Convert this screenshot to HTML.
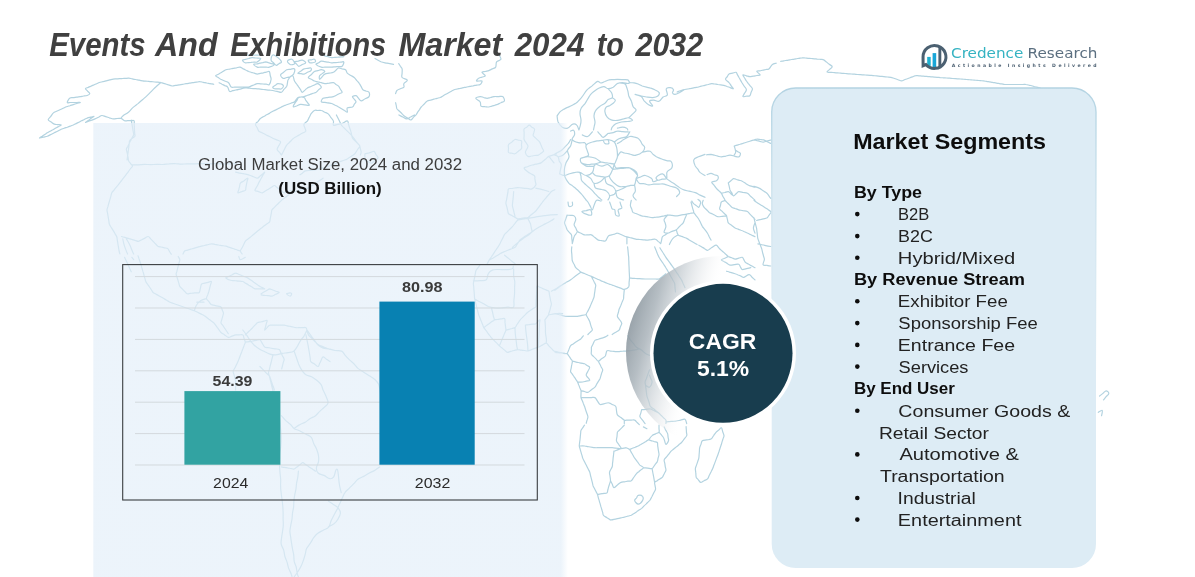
<!DOCTYPE html>
<html lang="en"><head><meta charset="utf-8"><title>Events And Exhibitions Market 2024 to 2032</title>
<style>
html,body{margin:0;padding:0;background:#fff;}
body{width:1195px;height:577px;overflow:hidden;font-family:"Liberation Sans",sans-serif;}
svg{display:block;}
text{font-family:"Liberation Sans",sans-serif;}
text.logo{font-family:"DejaVu Sans","Liberation Sans",sans-serif;}
</style></head><body>
<svg width="1195" height="577" viewBox="0 0 1195 577">
<defs>
<linearGradient id="cres" gradientUnits="userSpaceOnUse" x1="629.5" y1="326.4" x2="703" y2="346.8">
<stop offset="0" stop-color="#8f9aa2" stop-opacity="0.9"/><stop offset="0.25" stop-color="#a6b0b7" stop-opacity="0.82"/><stop offset="0.5" stop-color="#c9d0d5" stop-opacity="0.7"/><stop offset="0.78" stop-color="#eceef0" stop-opacity="0.45"/><stop offset="1" stop-color="#ffffff" stop-opacity="0"/>
</linearGradient>
<linearGradient id="pan" x1="0" y1="0" x2="1" y2="0">
<stop offset="0" stop-color="#e4eff9" stop-opacity="0.7"/><stop offset="0.985" stop-color="#e4eff9" stop-opacity="0.7"/><stop offset="1" stop-color="#e4eff9" stop-opacity="0"/>
</linearGradient>
<linearGradient id="cb" gradientUnits="userSpaceOnUse" x1="0" y1="88" x2="0" y2="568">
<stop offset="0" stop-color="#b3d3e2" stop-opacity="1"/><stop offset="0.08" stop-color="#b8d7e5" stop-opacity="0.9"/><stop offset="0.3" stop-color="#c5deea" stop-opacity="0.5"/><stop offset="0.6" stop-color="#d5e7f0" stop-opacity="0"/><stop offset="1" stop-color="#d5e7f0" stop-opacity="0"/>
</linearGradient>
<filter id="sh" x="-10%" y="-10%" width="120%" height="120%"><feGaussianBlur stdDeviation="2"/></filter>
</defs>
<rect width="1195" height="577" fill="#ffffff"/>
<g id="map" fill="none" stroke="#b3d3e0" stroke-width="1.2" stroke-linejoin="round" stroke-linecap="round">
<path d="M39.5 138.0C40.0 137.7 41.2 136.9 42.1 136.3C43.1 135.6 43.8 135.2 44.7 134.5C45.7 133.9 46.3 133.4 47.3 132.8C48.3 132.2 49.1 131.8 50.1 131.2C51.1 130.7 51.9 130.2 52.9 129.7C53.9 129.1 54.6 128.7 55.6 128.1C56.7 127.5 57.4 127.1 58.4 126.6C59.4 126.0 61.3 125.4 61.2 125.0C61.1 124.6 59.0 124.7 57.7 124.6C56.5 124.4 55.5 124.6 54.3 124.1C53.1 123.6 52.3 122.8 51.2 122.0C50.1 121.2 48.3 120.8 48.2 119.8C48.1 118.8 49.8 117.6 50.8 116.3C51.8 115.1 52.3 113.8 53.4 112.9C54.5 111.9 55.5 111.9 56.6 111.3C57.8 110.8 58.7 110.4 59.9 109.8C61.1 109.3 62.0 108.9 63.1 108.3C64.3 107.8 65.2 107.3 66.4 106.8C67.6 106.3 68.6 106.1 69.9 105.7C71.1 105.3 72.1 105.0 73.3 104.6C74.6 104.2 75.5 103.9 76.8 103.5C78.1 103.1 80.2 102.7 80.3 102.5C80.3 102.3 78.2 102.5 77.0 102.5C75.8 102.5 75.0 102.5 73.8 102.5C72.6 102.5 71.7 102.5 70.5 102.5C69.3 102.5 67.4 103.3 67.3 102.5C67.1 101.7 68.7 99.0 69.9 98.1C71.0 97.2 72.1 97.8 73.3 97.6C74.6 97.4 75.5 97.3 76.8 97.1C78.1 96.9 79.0 96.8 80.3 96.6C81.5 96.4 82.5 96.2 83.7 96.0C85.0 95.9 86.1 95.9 87.2 95.5C88.3 95.1 89.7 94.6 89.8 93.8C89.9 93.0 88.4 92.1 87.6 91.2C86.8 90.2 85.3 89.3 85.5 88.6C85.6 87.9 87.2 87.8 88.2 87.4C89.2 86.9 90.0 86.6 91.0 86.2C92.0 85.7 92.8 85.4 93.8 85.0C94.8 84.5 95.5 84.2 96.6 83.7C97.6 83.3 98.2 82.9 99.3 82.5C100.5 82.1 101.5 82.0 102.8 81.7C104.1 81.3 105.0 81.1 106.3 80.8C107.5 80.5 108.5 80.2 109.7 79.9C111.0 79.6 112.0 79.3 113.2 79.1C114.4 78.9 115.2 79.0 116.3 78.9C117.5 78.8 118.3 78.8 119.4 78.7C120.6 78.7 121.4 78.6 122.5 78.5C123.7 78.5 124.5 78.4 125.7 78.4C126.8 78.3 127.6 78.1 128.8 78.2C130.0 78.3 131.0 78.6 132.3 78.8C133.5 79.1 134.4 79.3 135.7 79.5C137.0 79.7 137.9 79.9 139.2 80.1C140.5 80.4 141.5 80.6 142.7 80.8C143.8 81.0 144.6 81.0 145.7 81.1C146.8 81.2 147.6 81.3 148.7 81.4C149.8 81.5 150.6 81.6 151.8 81.7C152.9 81.8 153.7 81.8 154.8 82.0C155.9 82.1 156.7 82.1 157.8 82.2C158.9 82.3 160.3 82.5 160.8 82.5 M160.8 82.5C160.0 83.2 157.9 85.0 156.3 86.5C154.7 87.9 153.7 89.0 152.1 90.6C150.5 92.2 149.3 93.5 147.6 95.1C145.9 96.7 144.5 97.9 142.7 99.5C141.0 101.0 139.8 102.1 138.0 103.6C136.2 105.0 134.8 105.8 133.1 107.4C131.3 109.0 130.2 110.6 128.4 112.2C126.6 113.7 124.5 114.7 123.1 115.8C121.8 116.8 121.4 117.6 121.0 118.1 M121.0 118.1C121.6 118.5 123.2 120.2 124.5 120.7C125.7 121.1 126.5 120.7 127.6 120.7C128.8 120.7 129.6 120.7 130.8 120.7C132.0 120.7 133.4 120.1 134.0 120.7C134.6 121.2 134.1 122.6 134.2 123.8C134.2 124.9 134.3 125.8 134.3 126.9C134.4 128.0 134.4 128.9 134.5 130.0C134.6 131.2 134.6 132.0 134.7 133.1C134.7 134.3 135.3 135.3 134.9 136.3C134.4 137.2 133.2 137.6 132.3 138.4C131.3 139.2 130.2 139.6 129.7 140.6C129.1 141.6 129.4 142.6 129.2 143.8C129.1 145.0 128.9 145.9 128.8 147.1C128.6 148.3 128.5 149.1 128.4 150.3C128.2 151.5 128.1 152.4 127.9 153.6C127.8 154.8 127.6 155.6 127.5 156.8C127.3 158.0 127.1 159.4 127.1 160.0 M121.0 118.1C120.3 118.1 118.5 118.3 117.1 118.5C115.7 118.7 114.6 119.1 113.2 118.9C111.8 118.8 110.8 118.2 109.4 117.8C108.1 117.3 107.1 117.0 105.7 116.6C104.3 116.2 103.2 115.4 101.9 115.5C100.6 115.6 99.7 116.6 98.5 117.2C97.2 117.8 96.2 118.4 95.0 118.9C93.8 119.5 93.0 119.7 91.8 120.1C90.6 120.5 89.8 120.8 88.6 121.2C87.5 121.7 85.5 122.6 85.5 122.4C85.4 122.2 87.3 121.1 88.3 120.4C89.4 119.6 90.2 119.1 91.2 118.3C92.3 117.6 94.2 116.5 94.1 116.3C94.0 116.1 91.9 116.9 90.7 117.2C89.4 117.5 88.3 117.6 87.2 118.1C86.0 118.5 85.4 118.9 84.4 119.4C83.4 120.0 82.7 120.3 81.6 120.8C80.6 121.3 79.9 121.7 78.9 122.2C77.9 122.7 77.1 123.1 76.1 123.6C75.1 124.1 74.4 124.5 73.3 125.0C72.3 125.4 71.4 125.7 70.3 126.1C69.2 126.5 68.4 126.8 67.3 127.2C66.1 127.6 65.3 127.8 64.2 128.2C63.1 128.6 62.3 128.9 61.2 129.3C60.1 129.8 59.4 130.2 58.4 130.7C57.4 131.2 56.7 131.6 55.6 132.1C54.6 132.6 53.9 133.0 52.9 133.5C51.9 134.0 51.1 134.4 50.1 134.9C49.1 135.4 48.6 135.8 47.3 136.3C46.1 136.7 44.9 136.8 43.4 137.1C42.0 137.4 40.2 137.8 39.5 138.0 M160.8 82.5C161.5 82.7 163.2 83.3 164.6 83.7C166.0 84.1 167.0 84.4 168.4 84.8C169.7 85.3 170.8 85.9 172.1 86.0C173.4 86.1 174.3 85.6 175.6 85.4C176.9 85.2 177.8 85.1 179.0 84.8C180.3 84.6 181.2 84.5 182.5 84.3C183.8 84.1 184.7 83.9 186.0 83.7C187.3 83.6 188.2 83.4 189.4 83.2C190.7 83.0 191.6 82.9 192.9 82.7C194.2 82.5 195.1 82.4 196.4 82.2C197.6 82.0 198.6 81.6 199.8 81.7C201.1 81.7 202.0 82.1 203.3 82.3C204.6 82.6 205.5 82.7 206.8 83.0C208.0 83.2 209.0 83.4 210.2 83.6C211.5 83.9 213.1 84.1 213.7 84.3 M219.1 82.7C219.6 83.0 220.9 83.6 222.0 84.2C223.0 84.7 223.8 85.1 224.8 85.6C225.9 86.1 226.9 86.0 227.7 87.1C228.6 88.1 228.6 90.7 229.5 91.4C230.4 92.1 231.4 91.0 232.6 90.7C233.7 90.4 234.6 90.3 235.7 90.0C236.8 89.8 237.7 89.6 238.8 89.3C240.0 89.1 240.8 88.9 241.9 88.6C243.1 88.4 243.9 88.0 245.1 87.9C246.2 87.8 247.0 88.1 248.1 88.1C249.2 88.2 250.0 88.3 251.1 88.4C252.2 88.4 253.0 88.5 254.2 88.6C255.3 88.7 256.1 88.7 257.2 88.8C258.3 88.9 259.2 89.0 260.3 89.1C261.5 89.3 262.3 89.4 263.4 89.5C264.6 89.6 265.4 89.7 266.6 89.8C267.7 90.0 268.5 90.1 269.7 90.2C270.8 90.3 271.4 90.3 272.8 90.5C274.2 90.8 275.5 91.1 277.1 91.4C278.7 91.7 280.2 92.7 281.5 92.3C282.7 91.9 283.1 90.3 284.1 89.2C285.0 88.1 286.0 87.4 286.7 86.2C287.3 85.0 287.2 84.0 287.5 82.7C287.8 81.5 287.4 80.5 288.4 79.3C289.3 78.0 291.6 75.5 292.7 75.8C293.8 76.1 293.7 79.5 294.5 81.0C295.2 82.5 295.8 82.9 296.6 84.0C297.4 85.1 298.1 86.0 298.8 87.1C299.5 88.1 299.9 88.7 300.5 89.7C301.2 90.6 301.5 92.2 302.3 92.3C303.0 92.3 303.9 90.9 304.9 90.1C305.8 89.3 306.3 88.6 307.5 87.9C308.6 87.3 309.6 87.0 310.9 86.5C312.2 86.0 313.1 85.6 314.4 85.0C315.7 84.5 316.6 83.2 317.9 83.6C319.1 84.0 321.2 86.0 321.3 87.1C321.5 88.2 319.7 88.7 318.7 89.7C317.8 90.6 317.2 91.6 316.1 92.3C315.1 92.9 314.2 92.9 313.1 93.3C312.0 93.7 311.2 94.0 310.1 94.4C308.9 94.8 308.1 95.1 307.0 95.5C305.9 95.9 305.1 96.3 304.0 96.6C302.9 96.9 302.1 96.9 301.0 97.0C299.8 97.2 299.1 96.6 297.9 97.5C296.7 98.3 295.6 100.8 294.5 101.8C293.3 102.8 292.7 102.5 291.6 102.9C290.6 103.3 289.9 103.6 288.8 104.0C287.8 104.4 287.0 104.6 286.0 105.0C285.0 105.4 284.3 105.6 283.2 106.1C282.0 106.6 281.0 107.2 279.7 107.9C278.5 108.5 277.5 109.0 276.3 109.6C275.0 110.2 274.0 110.7 272.8 111.3C271.6 112.0 270.9 112.4 269.8 113.1C268.6 113.7 267.8 114.2 266.7 114.8C265.6 115.4 264.8 115.9 263.7 116.5C262.6 117.2 261.7 117.4 260.7 118.3C259.6 119.1 259.0 120.2 258.1 121.3C257.1 122.4 255.6 123.1 255.5 124.3C255.3 125.5 256.6 126.5 257.2 127.8C257.8 129.1 258.1 130.4 258.9 131.3C259.8 132.1 260.7 132.1 261.7 132.6C262.7 133.2 263.5 133.5 264.5 134.0C265.5 134.5 266.2 134.9 267.2 135.4C268.3 135.9 269.0 136.3 270.0 136.8C271.0 137.3 271.6 137.6 272.8 138.2C274.0 138.8 275.3 139.3 276.7 139.9C278.1 140.6 280.2 140.6 280.6 141.7C281.0 142.7 279.5 144.1 278.9 145.6C278.2 147.0 277.0 148.2 277.1 149.5C277.2 150.7 278.5 151.2 279.3 152.2C280.1 153.2 281.1 154.5 281.5 155.0 M215.6 75.8C215.6 75.2 217.2 74.8 218.2 74.3C219.2 73.7 219.8 73.3 220.8 72.8C221.8 72.2 222.4 71.8 223.4 71.2C224.4 70.7 224.9 70.1 226.0 69.7C227.1 69.3 228.2 69.3 229.5 69.1C230.7 68.8 231.7 68.7 232.9 68.4C234.2 68.2 235.1 68.0 236.4 67.8C237.7 67.5 238.7 67.0 239.9 67.1C241.0 67.3 241.7 68.0 242.7 68.6C243.8 69.1 244.6 69.5 245.6 70.0C246.7 70.5 247.5 71.0 248.5 71.5C249.6 71.9 250.4 72.0 251.4 72.3C252.5 72.6 253.2 72.9 254.3 73.2C255.4 73.5 256.1 74.0 257.2 74.1C258.3 74.1 259.1 73.7 260.2 73.4C261.3 73.2 262.1 73.0 263.3 72.8C264.4 72.5 265.2 72.4 266.3 72.1C267.4 71.9 268.6 70.9 269.3 71.5C270.0 72.1 269.9 73.9 270.2 75.4C270.5 76.8 271.2 77.6 271.1 79.3C270.9 80.9 270.2 83.5 269.3 84.5C268.5 85.4 267.4 84.3 266.3 84.2C265.2 84.2 264.4 84.1 263.3 84.0C262.1 84.0 261.3 83.9 260.2 83.8C259.1 83.7 258.3 83.4 257.2 83.6C256.1 83.8 255.4 84.3 254.3 84.8C253.2 85.2 252.5 85.5 251.4 85.9C250.4 86.3 249.7 86.9 248.5 87.1C247.4 87.3 246.3 87.1 245.1 87.1C243.8 87.1 242.9 87.1 241.6 87.1C240.3 87.1 239.4 87.1 238.1 87.1C236.9 87.1 235.9 87.1 234.7 87.1C233.4 87.1 232.3 87.9 231.2 87.1C230.1 86.3 229.8 83.8 228.6 82.7C227.4 81.6 226.1 81.6 224.7 81.0C223.3 80.4 222.0 79.9 220.8 79.3C219.6 78.6 219.2 78.2 218.2 77.5C217.2 76.9 215.6 76.4 215.6 75.8 M272.8 87.1C272.9 86.4 274.4 86.0 275.4 85.3C276.3 84.7 276.6 83.6 278.0 83.6C279.4 83.6 282.6 84.4 283.2 85.3C283.8 86.3 282.4 88.2 281.5 88.8C280.5 89.4 279.3 88.8 278.0 88.8C276.7 88.8 275.5 89.1 274.5 88.8C273.6 88.5 272.6 87.7 272.8 87.1 M242.5 60.2C242.6 59.6 244.5 59.7 245.6 59.3C246.8 59.0 247.7 58.8 248.8 58.5C250.0 58.1 250.6 57.7 252.0 57.6C253.4 57.5 254.7 57.9 256.3 58.0C257.9 58.2 260.5 57.8 260.7 58.5C260.8 59.2 258.4 61.3 257.2 61.9C256.0 62.6 255.3 62.1 254.2 62.1C253.0 62.2 252.2 62.3 251.1 62.4C250.0 62.4 249.2 62.5 248.1 62.6C247.0 62.7 246.1 63.2 245.1 62.8C244.0 62.4 242.4 60.8 242.5 60.2 M253.7 64.5C253.6 63.9 255.6 64.1 256.8 63.9C257.9 63.6 258.7 63.5 259.8 63.2C260.9 63.0 261.7 62.8 262.8 62.6C263.9 62.3 264.8 61.9 265.9 61.9C266.9 62.0 267.7 62.5 268.7 62.8C269.8 63.1 270.6 63.3 271.6 63.7C272.7 64.0 274.9 63.9 274.5 64.5C274.1 65.2 270.8 66.7 269.3 67.1C267.8 67.6 267.4 67.1 266.3 67.1C265.2 67.1 264.4 67.1 263.3 67.1C262.1 67.1 261.3 67.1 260.2 67.1C259.1 67.1 258.4 67.6 257.2 67.1C256.0 66.7 253.8 65.1 253.7 64.5 M287.5 61.1C287.8 60.1 290.6 58.9 291.9 59.3C293.1 59.8 294.8 62.7 294.5 63.7C294.1 64.6 291.4 65.0 290.1 64.5C288.9 64.1 287.2 62.0 287.5 61.1 M294.5 61.9C294.8 61.4 296.9 61.4 298.4 61.1C299.8 60.7 300.9 59.9 302.3 60.2C303.6 60.5 305.7 62.0 305.7 62.8C305.7 63.6 303.5 63.9 302.3 64.5C301.0 65.2 299.8 66.3 298.8 66.3C297.8 66.2 297.4 64.9 296.6 64.1C295.8 63.3 294.1 62.5 294.5 61.9 M308.3 60.2C308.6 59.6 310.2 59.9 311.4 59.8C312.5 59.6 313.7 58.9 314.4 59.3C315.1 59.7 316.0 61.3 315.3 61.9C314.5 62.6 311.3 63.1 310.1 62.8C308.8 62.5 308.1 60.8 308.3 60.2 M316.1 64.5C315.6 63.7 317.8 63.4 318.7 62.8C319.7 62.2 320.2 61.3 321.3 61.1C322.4 60.9 323.5 61.4 324.8 61.6C326.1 61.9 327.0 62.0 328.2 62.2C329.5 62.4 330.5 62.7 331.7 62.8C332.9 62.9 333.6 62.7 334.7 62.6C335.9 62.5 336.7 62.4 337.8 62.4C338.9 62.3 339.7 62.2 340.8 62.1C341.9 62.1 343.6 61.2 343.8 61.9C344.1 62.7 343.1 65.4 342.1 66.3C341.2 67.1 339.9 66.4 338.6 66.6C337.4 66.7 336.5 66.7 335.2 66.8C333.9 66.9 333.0 67.1 331.7 67.1C330.4 67.2 329.5 67.1 328.2 67.1C327.0 67.1 326.1 67.1 324.8 67.1C323.5 67.1 322.9 67.6 321.3 67.1C319.7 66.7 316.6 65.3 316.1 64.5 M280.6 74.9C280.7 73.8 282.5 73.3 283.6 72.3C284.7 71.4 285.4 70.3 286.7 69.7C287.9 69.2 289.1 69.5 290.6 69.3C292.0 69.1 293.9 68.0 294.5 68.9C295.0 69.7 294.4 72.6 293.6 74.1C292.8 75.5 291.4 76.0 290.1 76.7C288.9 77.3 287.9 77.2 286.7 77.5C285.4 77.8 284.3 78.9 283.2 78.4C282.1 77.9 280.5 76.0 280.6 74.9 M297.9 73.2C297.9 72.7 299.8 71.8 301.0 71.0C302.1 70.2 302.8 69.3 304.0 68.9C305.2 68.4 306.2 68.6 307.5 68.4C308.7 68.3 310.3 67.6 310.9 68.0C311.6 68.4 311.6 69.8 310.9 70.6C310.3 71.4 308.7 71.7 307.5 72.3C306.2 73.0 305.2 73.8 304.0 74.1C302.8 74.3 302.1 73.8 301.0 73.6C299.8 73.5 297.9 73.7 297.9 73.2 M308.3 77.5C308.3 76.7 310.2 75.6 311.4 74.5C312.5 73.4 313.2 72.2 314.4 71.5C315.6 70.7 316.6 70.9 317.9 70.6C319.1 70.3 320.0 69.6 321.3 69.7C322.6 69.9 324.6 70.7 324.8 71.5C324.9 72.2 323.1 72.8 322.2 73.6C321.2 74.4 320.1 74.8 319.6 75.8C319.1 76.8 319.1 79.1 319.6 79.3C320.1 79.4 321.2 77.6 322.2 76.7C323.1 75.7 323.5 74.7 324.8 74.1C326.1 73.4 327.5 73.5 329.1 73.2C330.7 72.9 332.2 72.9 333.4 72.3C334.7 71.8 335.1 71.0 336.0 70.2C337.0 69.4 337.5 68.2 338.6 68.0C339.8 67.8 340.8 68.5 342.1 68.9C343.4 69.2 344.6 68.9 345.6 69.7C346.5 70.5 346.4 72.2 347.3 73.2C348.3 74.2 349.5 74.6 350.8 75.4C352.1 76.2 353.1 76.6 354.2 77.5C355.4 78.5 355.9 79.5 356.8 80.6C357.8 81.7 358.7 82.5 359.4 83.6C360.2 84.7 360.5 85.5 361.2 86.6C361.8 87.7 362.0 88.9 362.9 89.7C363.8 90.5 364.8 90.5 365.9 91.0C367.1 91.4 368.4 91.2 369.0 92.3C369.5 93.3 369.7 95.4 369.0 96.6C368.3 97.8 366.5 98.0 365.1 98.8C363.6 99.6 362.4 101.0 361.2 100.9C360.0 100.8 359.5 99.3 358.6 98.3C357.6 97.4 357.1 96.0 356.0 95.7C354.9 95.4 352.8 96.0 352.5 96.6C352.2 97.2 353.6 98.2 354.2 99.2C354.9 100.1 356.0 100.8 356.0 101.8C356.0 102.7 354.9 103.4 354.2 104.4C353.6 105.3 353.8 106.4 352.5 107.0C351.2 107.6 348.3 106.9 347.3 107.9C346.4 108.8 347.8 111.7 347.3 112.2C346.8 112.7 345.5 111.1 344.4 110.5C343.4 109.8 342.6 109.4 341.5 108.7C340.5 108.1 339.8 107.6 338.6 107.0C337.5 106.4 336.5 105.9 335.2 105.3C333.9 104.6 333.0 104.0 331.7 103.5C330.4 103.1 329.5 103.2 328.2 102.9C327.0 102.7 326.1 102.6 324.8 102.4C323.5 102.2 321.6 102.5 321.3 101.8C321.0 101.1 322.1 99.1 323.1 98.3C324.0 97.6 325.2 98.0 326.5 97.7C327.8 97.5 328.7 97.4 330.0 97.2C331.3 97.0 332.3 97.0 333.4 96.6C334.6 96.2 335.3 95.7 336.3 95.2C337.4 94.6 338.2 94.2 339.2 93.7C340.3 93.2 341.9 93.1 342.1 92.3C342.3 91.4 341.0 90.3 340.4 89.2C339.7 88.1 339.4 87.1 338.6 86.2C337.9 85.3 337.0 85.1 336.0 84.5C335.1 83.8 334.7 83.0 333.4 82.7C332.2 82.5 330.7 83.0 329.1 83.2C327.5 83.3 326.2 83.7 324.8 83.6C323.4 83.5 322.6 83.0 321.3 82.7C320.0 82.4 319.1 82.2 317.9 81.9C316.6 81.5 315.6 81.5 314.4 81.0C313.2 80.5 312.5 79.9 311.4 79.3C310.2 78.6 308.3 78.4 308.3 77.5 M310.9 113.9C311.6 113.3 313.1 111.1 314.4 110.5C315.7 109.8 316.6 110.5 317.9 110.5C319.1 110.5 320.0 110.1 321.3 110.5C322.6 110.8 323.5 111.6 324.8 112.2C326.1 112.8 327.1 113.0 328.2 113.9C329.4 114.9 329.9 116.1 330.8 117.4C331.8 118.7 333.0 119.4 333.4 120.9C333.9 122.3 332.7 124.6 333.4 125.2C334.2 125.8 336.2 124.6 337.8 124.3C339.4 124.0 340.4 124.1 342.1 123.5C343.9 122.8 346.1 120.7 347.3 120.9C348.5 121.0 348.0 123.1 348.5 124.3C348.9 125.6 349.2 126.5 349.6 127.8C350.0 129.1 350.4 130.0 350.8 131.3C351.2 132.5 351.3 133.5 351.6 134.7C352.0 136.0 351.9 137.1 352.5 138.2C353.1 139.2 354.0 139.7 354.8 140.5C355.7 141.3 356.3 142.0 357.1 142.8C358.0 143.7 358.9 144.1 359.4 145.1C360.0 146.2 360.0 147.3 360.3 148.6C360.6 149.9 361.2 150.9 361.2 152.1C361.2 153.2 360.5 154.5 360.3 155.0 M310.9 113.9C310.6 114.6 309.8 116.1 309.2 117.4C308.5 118.7 308.4 119.6 307.5 120.9C306.5 122.1 304.5 123.1 304.0 124.3C303.5 125.6 304.5 126.5 304.9 127.8C305.2 129.1 306.1 130.3 305.7 131.3C305.3 132.2 303.8 132.4 302.7 133.0C301.6 133.6 300.8 134.1 299.7 134.7C298.5 135.4 297.7 135.8 296.6 136.5C295.5 137.1 294.6 137.4 293.6 138.2C292.6 138.9 292.1 139.7 291.3 140.5C290.4 141.3 289.8 142.0 289.0 142.8C288.1 143.7 287.4 144.1 286.7 145.1C285.9 146.1 285.6 147.2 284.9 148.4C284.3 149.6 283.8 150.5 283.2 151.7C282.6 152.9 281.8 154.4 281.5 155.0 M293.6 105.3C293.9 104.5 294.7 103.6 295.3 102.7C296.0 101.7 296.4 101.0 297.1 100.1C297.7 99.1 297.5 97.9 298.8 97.5C300.1 97.0 302.7 97.0 304.0 97.5C305.3 97.9 305.1 99.1 305.7 100.1C306.4 101.0 306.8 101.7 307.5 102.7C308.1 103.6 309.7 104.9 309.2 105.3C308.7 105.7 306.4 105.0 304.9 104.8C303.3 104.7 301.9 104.2 300.5 104.4C299.1 104.6 298.3 105.2 297.1 105.7C295.8 106.2 294.2 107.1 293.6 107.0C293.0 106.9 293.3 106.1 293.6 105.3 M375.0 58.5C376.1 59.1 378.7 60.9 380.9 61.8C383.1 62.6 384.7 62.7 387.0 63.2C389.3 63.7 392.3 64.2 393.5 64.4 M241.6 55.0C242.9 55.0 246.4 55.1 249.0 55.2C251.6 55.2 254.0 55.3 255.8 55.2C257.6 55.2 258.3 55.0 258.9 55.0 M272.8 55.0C274.1 54.5 276.4 56.3 278.0 57.6C279.6 58.9 281.3 60.8 281.5 61.9C281.6 63.0 279.8 63.0 278.9 63.7C277.9 64.3 277.2 65.6 276.3 65.4C275.3 65.2 274.6 63.8 273.7 62.8C272.7 61.8 271.2 61.6 271.1 60.2C270.9 58.8 271.5 55.5 272.8 55.0 M321.3 55.0C322.0 55.2 323.5 55.5 324.8 55.9C326.1 56.2 327.0 56.4 328.2 56.7C329.5 57.1 330.5 57.5 331.7 57.6C332.9 57.7 333.6 57.5 334.7 57.4C335.9 57.3 336.7 57.2 337.8 57.2C338.9 57.1 339.7 57.0 340.8 56.9C341.9 56.9 343.3 56.8 343.8 56.7 M398.7 63.7C399.0 64.1 399.8 65.3 400.4 66.3C401.0 67.2 401.8 67.6 402.1 68.9C402.4 70.1 402.1 71.6 402.1 73.2C402.1 74.8 401.2 76.3 402.1 77.5C403.1 78.8 407.0 79.0 407.3 80.1C407.6 81.2 404.5 82.3 403.9 83.6C403.2 84.9 404.5 86.1 403.9 87.1C403.2 88.0 401.7 88.2 400.4 88.8C399.1 89.4 397.8 89.7 396.9 90.5C396.1 91.4 395.9 93.0 395.6 93.6 M395.6 102.7C395.8 103.2 396.0 104.6 396.3 105.7C396.5 106.8 396.4 107.7 396.9 108.7C397.5 109.7 398.4 110.2 399.2 111.0C400.1 111.9 400.7 112.5 401.6 113.3C402.4 114.2 402.8 114.8 403.9 115.7C404.9 116.5 406.1 117.0 407.3 117.8C408.6 118.6 409.7 120.1 410.8 120.0C411.9 119.9 412.4 118.3 413.4 117.4C414.4 116.4 415.2 115.7 416.0 114.8C416.8 113.8 417.1 113.1 417.7 112.2C418.4 111.2 418.8 110.5 419.5 109.6C420.1 108.6 420.3 108.0 421.2 107.0C422.1 106.0 423.1 105.1 424.2 104.0C425.3 102.8 426.1 101.6 427.3 100.9C428.4 100.2 429.3 100.4 430.5 100.1C431.7 99.7 432.6 99.5 433.8 99.2C435.0 98.9 435.8 98.6 437.0 98.3C438.2 98.0 439.2 97.9 440.3 97.5C441.4 97.0 442.0 96.5 443.0 95.9C444.0 95.3 444.8 94.9 445.8 94.3C446.8 93.8 447.6 93.4 448.6 92.8C449.6 92.2 450.3 91.8 451.4 91.2C452.4 90.6 453.1 90.1 454.1 89.7C455.2 89.3 456.0 89.3 457.2 89.0C458.3 88.8 459.1 88.6 460.2 88.4C461.3 88.1 462.1 88.0 463.2 87.7C464.3 87.5 465.1 87.3 466.3 87.1C467.4 86.8 468.5 86.7 469.7 86.4C471.0 86.2 471.9 86.0 473.2 85.8C474.5 85.5 475.4 85.4 476.7 85.1C477.9 84.9 479.2 85.2 480.1 84.5C481.1 83.7 482.5 81.6 481.9 81.0C481.2 80.4 477.3 81.5 476.7 81.0C476.0 80.5 477.4 79.1 478.4 78.4C479.3 77.7 480.6 77.6 481.9 77.1C483.1 76.6 485.3 76.7 485.3 75.8C485.3 74.9 481.9 73.1 481.9 72.3C481.9 71.5 484.0 71.8 485.3 71.5C486.6 71.1 487.5 71.1 488.8 70.6C490.1 70.1 491.0 69.5 492.3 68.9C493.5 68.2 494.9 68.4 495.7 67.1C496.5 65.9 495.6 63.4 496.6 61.9C497.5 60.5 500.4 60.6 500.9 59.3C501.4 58.1 499.5 55.8 499.2 55.0 M475.8 98.3C475.8 97.4 478.7 96.8 480.1 96.6C481.6 96.4 482.3 97.1 483.6 97.5C484.9 97.8 485.8 98.3 487.1 98.3C488.3 98.3 489.2 97.8 490.5 97.5C491.8 97.1 492.6 96.8 494.0 96.6C495.4 96.4 496.7 96.6 498.3 96.6C499.9 96.6 501.5 95.8 502.7 96.6C503.8 97.4 504.7 99.8 504.4 100.9C504.1 102.0 502.2 102.0 500.9 102.7C499.6 103.3 498.6 103.9 497.5 104.4C496.3 104.9 495.6 104.9 494.6 105.3C493.5 105.6 492.7 105.8 491.7 106.1C490.6 106.4 490.0 106.9 488.8 107.0C487.5 107.1 486.3 106.7 484.9 106.6C483.5 106.4 481.9 107.0 481.0 106.1C480.1 105.3 481.1 103.2 480.1 101.8C479.2 100.4 475.8 99.3 475.8 98.3 M677.1 92.0C677.7 91.8 679.2 91.2 680.5 90.8C681.8 90.4 682.7 90.0 684.0 89.7C685.3 89.3 686.2 89.3 687.5 89.0C688.7 88.8 689.6 88.6 690.9 88.4C692.2 88.1 693.1 88.0 694.4 87.7C695.7 87.5 696.6 87.3 697.9 87.1C699.1 86.8 700.0 86.5 701.3 86.2C702.6 85.9 703.5 85.6 704.8 85.3C706.1 85.0 707.0 84.8 708.2 84.5C709.5 84.1 710.5 83.7 711.7 83.6C712.9 83.5 713.6 83.9 714.7 84.0C715.9 84.2 716.7 84.3 717.8 84.5C718.9 84.6 719.7 84.7 720.8 84.9C721.9 85.1 722.7 85.0 723.8 85.3C725.0 85.6 725.9 86.1 727.0 86.5C728.2 86.9 729.0 87.2 730.2 87.6C731.4 88.1 733.2 89.1 733.4 88.8C733.6 88.5 732.0 86.9 731.2 85.8C730.4 84.7 730.1 83.9 729.0 82.7C728.0 81.5 725.9 80.4 725.6 79.3C725.3 78.2 726.7 77.6 727.3 76.7C727.9 75.7 728.1 74.7 729.0 74.1C730.0 73.4 731.2 73.5 732.5 73.2C733.8 72.9 735.1 72.0 736.0 72.3C736.9 72.6 736.9 74.0 737.5 74.9C738.1 75.9 738.5 76.6 739.0 77.5C739.6 78.5 740.0 79.2 740.5 80.1C741.1 81.1 741.4 81.6 742.0 82.7C742.7 83.8 743.4 84.9 744.2 86.2C745.0 87.5 746.3 88.4 746.4 89.7C746.5 90.9 745.3 91.9 744.6 93.1C744.0 94.4 742.6 96.0 742.9 96.6C743.2 97.2 745.1 96.3 746.4 96.2C747.6 96.0 749.0 96.4 749.8 95.7C750.7 95.0 750.7 93.5 751.1 92.3C751.6 91.0 752.6 89.9 752.4 88.8C752.3 87.7 751.2 87.1 750.4 86.2C749.7 85.2 749.1 84.5 748.4 83.6C747.7 82.6 747.1 82.0 746.4 81.0C745.7 80.0 745.3 79.1 744.6 78.0C744.0 76.9 742.6 75.3 742.9 74.9C743.2 74.5 745.1 75.5 746.4 75.8C747.6 76.1 748.6 76.6 749.8 76.7C751.1 76.7 752.0 76.3 753.3 76.1C754.6 75.9 755.5 75.7 756.8 75.5C758.0 75.3 760.2 75.7 760.2 74.9C760.2 74.2 756.9 72.2 756.8 71.5C756.7 70.7 758.7 71.1 759.8 70.8C760.9 70.6 761.7 70.4 762.8 70.2C764.0 69.9 764.8 69.8 765.9 69.5C767.0 69.3 767.7 69.8 768.9 68.9C770.1 68.0 771.0 65.6 772.4 64.5C773.7 63.5 775.5 63.5 776.2 63.2 M734.2 146.0C734.8 145.8 736.1 145.4 737.1 145.1C738.2 144.8 739.0 144.6 740.0 144.3C741.1 143.9 741.7 143.7 742.9 143.4C744.1 143.0 745.1 142.7 746.4 142.3C747.6 141.9 748.6 141.6 749.8 141.2C751.1 140.8 752.0 140.5 753.3 140.1C754.6 139.7 755.5 139.2 756.8 139.1C758.0 138.9 759.0 139.3 760.2 139.5C761.5 139.6 762.4 139.5 763.7 139.9C765.0 140.3 765.9 141.0 767.2 141.7C768.4 142.3 770.0 143.1 770.6 143.4 M734.2 146.0C734.5 147.0 735.7 150.1 735.7 151.7C735.7 153.4 734.5 154.4 734.2 155.0 M780.7 61.3C781.2 61.2 782.6 61.0 783.7 60.8C784.8 60.6 785.6 60.5 786.8 60.3C787.9 60.1 788.7 60.0 789.8 59.8C790.9 59.6 791.7 59.5 792.9 59.3C794.0 59.1 794.8 59.0 795.9 58.8C797.0 58.6 797.8 58.5 799.0 58.3C800.1 58.1 800.9 57.8 802.0 57.8C803.1 57.7 803.9 57.9 805.1 58.0C806.2 58.1 807.0 58.2 808.1 58.3C809.2 58.4 810.0 58.4 811.2 58.5C812.3 58.6 813.1 58.7 814.2 58.8C815.3 58.9 816.1 59.0 817.2 59.1C818.4 59.1 819.2 59.2 820.3 59.3C821.4 59.4 822.2 59.1 823.3 59.6C824.4 60.0 825.2 61.1 826.3 61.9C827.4 62.8 828.2 63.4 829.3 64.3C830.4 65.2 832.2 65.7 832.2 66.7C832.3 67.6 830.5 68.4 829.6 69.3C828.6 70.3 826.8 71.5 826.9 72.0C827.0 72.5 828.8 72.2 829.9 72.3C831.1 72.4 831.9 72.4 833.0 72.5C834.1 72.6 834.9 72.7 836.0 72.8C837.2 72.9 838.0 72.9 839.1 73.0C840.2 73.1 841.0 73.2 842.1 73.3C843.3 73.4 844.1 73.4 845.2 73.5C846.3 73.6 847.1 73.7 848.2 73.8C849.4 73.9 850.2 73.9 851.3 74.0C852.5 74.1 853.3 74.1 854.5 74.2C855.6 74.3 856.4 74.4 857.6 74.5C858.7 74.5 859.5 74.6 860.7 74.7C861.8 74.8 862.7 74.8 863.8 74.9C864.9 75.0 865.8 75.0 866.9 75.1C868.0 75.2 868.9 75.3 870.0 75.3C871.2 75.4 871.9 75.5 873.1 75.6C874.4 75.7 875.4 75.8 876.7 75.9C878.0 76.0 878.9 76.1 880.2 76.3C881.5 76.4 882.5 76.5 883.8 76.6C885.1 76.8 886.1 76.9 887.4 77.0C888.7 77.1 889.6 77.1 890.9 77.3C892.2 77.6 893.2 78.1 894.5 78.5C895.8 79.0 896.7 79.3 898.0 79.7C899.3 80.1 900.4 80.9 901.6 80.9C902.8 80.9 903.4 80.2 904.4 79.8C905.5 79.4 906.2 79.2 907.3 78.8C908.3 78.4 909.1 78.1 910.1 77.7C911.2 77.3 911.9 77.0 913.0 76.6C914.0 76.2 914.7 75.7 915.8 75.6C916.9 75.4 917.7 75.7 918.9 75.8C920.0 75.9 920.8 76.0 921.9 76.1C923.0 76.2 923.8 76.2 924.9 76.3C926.1 76.4 926.9 76.5 928.0 76.6C929.1 76.7 929.9 76.7 931.0 76.8C932.2 76.9 933.0 77.0 934.1 77.1C935.2 77.2 936.0 77.3 937.1 77.3C938.3 77.4 939.1 77.5 940.3 77.6C941.4 77.6 942.2 77.7 943.4 77.8C944.5 77.9 945.3 77.9 946.5 78.0C947.6 78.1 948.4 78.1 949.6 78.2C950.7 78.3 951.6 78.4 952.7 78.5C953.8 78.5 954.7 78.6 955.8 78.7C957.0 78.8 957.8 78.8 958.9 78.9C960.1 79.0 960.9 79.0 962.0 79.1C963.2 79.2 964.0 79.3 965.1 79.4C966.2 79.5 967.0 79.5 968.1 79.6C969.2 79.7 970.1 79.8 971.2 79.9C972.3 80.0 973.1 80.0 974.2 80.1C975.3 80.2 976.2 80.3 977.3 80.4C978.4 80.5 979.2 80.5 980.3 80.6C981.4 80.7 982.3 80.8 983.4 80.9C984.5 81.0 985.3 81.2 986.4 81.4C987.5 81.6 988.3 81.7 989.5 81.9C990.6 82.1 991.4 82.2 992.5 82.4C993.6 82.6 994.4 82.7 995.6 82.9C996.7 83.1 997.5 83.3 998.6 83.4C999.7 83.6 1000.5 83.8 1001.7 83.9C1002.8 84.1 1003.6 84.4 1004.7 84.5C1005.8 84.5 1006.6 84.5 1007.8 84.5C1008.9 84.5 1009.7 84.5 1010.8 84.5C1011.9 84.5 1012.7 84.5 1013.9 84.5C1015.0 84.5 1015.8 84.5 1016.9 84.5C1018.0 84.5 1018.8 84.5 1019.9 84.5C1021.1 84.5 1021.9 84.5 1023.0 84.5C1024.1 84.5 1024.8 84.3 1026.0 84.5C1027.3 84.6 1028.3 85.0 1029.6 85.3C1030.9 85.7 1031.9 85.9 1033.2 86.2C1034.5 86.6 1035.4 86.8 1036.7 87.1C1038.0 87.4 1039.6 87.8 1040.3 88.0 M585.8 199.8C586.2 200.2 587.1 200.9 587.9 202.0C588.7 203.1 589.3 204.5 590.1 205.9C590.9 207.3 591.5 209.9 592.3 209.8C593.0 209.7 593.2 207.2 594.0 205.5C594.8 203.7 595.3 201.1 596.6 200.3C597.9 199.5 600.1 201.0 600.9 201.1 M572.3 202.0C572.3 202.6 573.0 204.7 572.3 205.5C571.7 206.3 569.7 207.0 568.9 206.3C568.1 205.7 568.2 202.8 568.0 202.0 M581.9 211.5C581.9 210.9 584.6 211.0 586.2 210.7C587.8 210.3 589.6 209.0 590.5 209.8C591.5 210.6 592.2 214.2 591.4 215.0C590.6 215.8 587.9 214.8 586.2 214.1C584.4 213.5 581.9 212.2 581.9 211.5 M609.6 202.0C609.8 202.6 610.4 204.2 610.9 205.5C611.4 206.7 611.5 208.1 612.2 208.9C612.9 209.7 614.2 208.7 614.8 209.8C615.4 210.9 614.9 213.9 615.7 215.0C616.5 216.1 618.6 216.3 619.1 215.9C619.7 215.5 618.9 213.9 618.7 212.8C618.5 211.7 617.7 210.7 618.3 209.8C618.8 208.9 621.2 208.9 621.7 208.1C622.2 207.2 621.2 206.1 620.9 205.0C620.5 203.9 620.2 202.5 620.0 202.0 M631.3 200.3C631.1 201.2 630.3 203.9 630.4 205.5C630.5 207.0 631.2 207.7 631.7 208.9C632.2 210.2 632.2 211.5 633.0 212.4C633.8 213.2 634.8 213.1 635.9 213.5C636.9 214.0 637.7 214.3 638.8 214.7C639.8 215.1 640.5 215.5 641.7 215.9C642.8 216.2 643.9 216.2 645.1 216.4C646.4 216.6 647.3 216.8 648.6 217.0C649.9 217.2 650.6 217.6 652.1 217.6C653.5 217.6 654.8 217.3 656.4 217.2C658.0 217.0 659.3 217.0 660.7 216.7C662.1 216.5 662.9 216.2 664.2 215.9C665.5 215.5 666.2 215.1 667.7 215.0C669.1 214.9 670.4 215.3 672.0 215.4C673.6 215.6 674.9 215.9 676.3 215.9C677.7 215.8 678.5 215.5 679.8 215.3C681.1 215.1 682.0 214.9 683.2 214.7C684.5 214.5 685.4 214.4 686.7 214.1C688.0 213.9 688.9 213.6 690.2 213.3C691.5 212.9 693.2 213.2 693.6 212.4C694.1 211.6 693.1 210.2 692.8 208.9C692.5 207.7 692.2 206.7 691.9 205.5C691.6 204.2 691.2 202.6 691.0 202.0 M706.6 154.8C707.4 154.7 709.5 154.3 711.0 154.3C712.4 154.4 713.2 154.9 714.4 155.2C715.7 155.5 716.6 155.7 717.9 156.1C719.2 156.4 719.9 156.9 721.4 156.9C722.8 156.9 724.1 156.4 725.7 156.1C727.3 155.7 728.5 155.2 730.0 155.2C731.6 155.2 732.8 155.7 734.4 156.1C736.0 156.4 737.6 157.4 738.7 156.9C739.8 156.5 740.6 154.4 740.4 153.5C740.3 152.5 738.8 152.4 737.8 151.7C736.9 151.1 735.7 150.3 735.2 150.0 M691.9 201.1C692.2 201.6 692.9 202.9 693.6 203.7C694.4 204.5 695.3 204.8 696.2 205.5C697.2 206.1 698.1 207.8 698.8 207.2C699.6 206.6 700.7 203.4 700.6 202.0C700.4 200.6 698.5 199.9 698.0 199.4 M707.1 174.7C707.8 174.5 709.6 173.4 711.0 173.4C712.3 173.4 713.2 174.2 714.4 174.7C715.7 175.2 717.4 175.0 717.9 176.0C718.4 177.0 718.2 179.2 717.0 180.3C715.9 181.4 712.4 181.2 711.8 182.1C711.3 182.9 713.2 184.0 714.0 185.1C714.8 186.2 715.3 187.1 716.2 188.1C717.1 189.2 717.8 189.8 718.8 190.7C719.7 191.7 720.6 192.2 721.4 193.3C722.2 194.4 722.5 195.5 723.1 196.8C723.7 198.1 725.2 199.3 724.8 200.3C724.5 201.2 722.2 201.0 721.4 202.0C720.6 202.9 720.8 204.2 720.5 205.5C720.2 206.7 719.4 207.9 719.6 208.9C719.9 210.0 721.1 210.4 722.0 211.2C722.8 212.1 723.4 212.7 724.3 213.5C725.1 214.4 726.9 215.4 726.6 215.9C726.2 216.4 723.8 216.1 722.2 216.3C720.7 216.5 719.2 216.9 717.9 216.7C716.6 216.5 716.1 215.8 715.0 215.3C714.0 214.8 713.2 214.4 712.1 213.8C711.1 213.3 710.3 213.1 709.2 212.4C708.2 211.7 707.6 210.7 706.6 209.8C705.7 208.8 704.8 208.3 704.0 207.2C703.3 206.1 702.5 205.0 702.3 203.7C702.2 202.5 703.0 200.9 703.2 200.3 M728.3 182.9C728.8 182.5 730.0 181.6 730.9 180.8C731.9 180.0 732.5 178.8 733.5 178.6C734.5 178.4 735.3 179.1 736.4 179.5C737.5 179.8 738.2 180.0 739.3 180.3C740.3 180.6 741.0 180.6 742.2 181.2C743.3 181.8 744.4 182.6 745.6 183.4C746.9 184.2 747.9 185.0 749.1 185.5C750.3 186.1 751.0 186.1 752.1 186.4C753.1 186.7 754.5 187.1 755.0 187.3 M728.3 182.9C728.5 183.6 728.9 185.1 729.2 186.4C729.5 187.7 729.6 188.7 730.0 189.9C730.5 191.1 731.1 191.8 731.8 192.9C732.4 194.0 732.7 195.8 733.5 195.9C734.3 196.1 735.2 194.6 736.1 193.8C737.1 193.0 737.4 191.8 738.7 191.6C740.0 191.4 741.5 192.1 743.0 192.5C744.6 192.8 746.1 192.7 747.4 193.3C748.6 193.9 749.0 194.8 749.9 195.6C750.8 196.5 751.5 197.1 752.5 197.9C753.4 198.8 754.5 199.8 755.0 200.3 M721.4 193.3C722.0 193.2 723.6 192.8 724.8 192.5C726.1 192.1 727.2 191.4 728.3 191.6C729.4 191.8 730.0 193.0 730.9 193.8C731.9 194.6 733.0 195.5 733.5 195.9 M724.8 200.3C725.3 200.7 726.3 201.7 727.2 202.6C728.0 203.4 728.6 204.0 729.5 204.9C730.3 205.7 730.7 206.5 731.8 207.2C732.8 207.9 734.0 208.0 735.2 208.5C736.5 209.0 737.3 209.4 738.7 209.8C740.1 210.2 741.5 210.3 743.0 210.7C744.6 211.0 746.1 210.9 747.4 211.5C748.6 212.2 749.0 213.2 749.9 214.1C750.8 215.1 751.5 215.8 752.5 216.7C753.4 217.7 754.5 218.8 755.0 219.3 M755.0 222.8C754.7 223.7 753.4 226.1 753.4 228.0C753.4 229.9 754.7 232.2 755.0 233.2 M693.6 212.4C694.1 213.0 695.3 214.6 696.2 215.9C697.2 217.1 698.1 218.1 698.8 219.3C699.6 220.6 699.9 221.5 700.6 222.8C701.2 224.1 701.5 225.0 702.3 226.3C703.1 227.5 704.0 228.5 704.9 229.7C705.9 231.0 706.7 231.9 707.5 233.2C708.3 234.5 708.6 235.4 709.2 236.7C709.9 237.9 710.7 239.5 711.0 240.1 M726.6 215.9C726.7 216.5 727.1 218.1 727.4 219.3C727.8 220.6 727.5 221.7 728.3 222.8C729.1 223.9 730.5 224.4 731.8 225.4C733.0 226.3 734.1 227.3 735.2 228.0C736.4 228.7 737.1 228.7 738.1 229.1C739.2 229.6 740.0 229.9 741.0 230.3C742.1 230.7 742.9 231.0 743.9 231.5C744.9 231.9 745.7 232.3 746.7 232.8C747.7 233.2 748.4 233.6 749.5 234.1C750.5 234.5 751.2 234.9 752.2 235.4C753.2 235.8 754.5 236.4 755.0 236.7 M667.7 215.0C667.0 215.8 664.7 217.9 664.2 219.3C663.7 220.8 664.7 221.5 665.1 222.8C665.4 224.1 665.9 225.1 665.9 226.3C665.9 227.4 665.4 228.2 665.1 229.3C664.7 230.4 663.7 231.6 664.2 232.3C664.7 233.0 666.5 233.2 667.7 233.2C668.8 233.1 669.5 232.5 670.5 232.0C671.6 231.6 672.4 231.3 673.4 230.9C674.5 230.5 675.4 230.4 676.3 229.7C677.3 229.1 677.8 228.3 678.6 227.4C679.5 226.6 680.1 225.9 680.9 225.1C681.8 224.3 682.6 223.7 683.2 222.8C683.9 221.8 684.0 221.0 684.4 219.9C684.8 218.8 685.1 218.1 685.6 217.0C686.0 216.0 686.5 214.7 686.7 214.1 M676.3 229.7C676.6 230.7 677.2 233.8 678.1 234.9C678.9 236.1 679.9 235.7 680.9 236.1C682.0 236.5 682.8 236.8 683.8 237.2C684.9 237.7 685.7 237.9 686.7 238.4C687.7 238.9 688.4 239.3 689.3 239.9C690.3 240.5 691.0 240.9 691.9 241.4C692.9 242.0 693.6 242.4 694.5 242.9C695.5 243.5 696.6 244.2 697.1 244.5 M667.7 233.2C667.2 233.5 666.0 234.3 665.1 234.9C664.1 235.6 663.1 235.7 662.5 236.7C661.8 237.6 661.9 238.9 661.6 240.1C661.3 241.4 660.9 243.0 660.7 243.6 M678.1 234.9C677.1 235.6 674.3 236.9 672.7 238.7C671.1 240.4 670.0 243.4 669.4 244.5 M567.1 215.0C567.8 215.1 569.3 215.3 570.6 215.4C571.9 215.6 573.1 215.1 574.1 215.9C575.0 216.6 575.8 217.7 575.8 219.3C575.8 220.9 574.1 222.9 574.1 224.5C574.1 226.1 575.2 226.7 575.8 228.0C576.4 229.3 576.6 230.5 577.5 231.5C578.5 232.4 579.7 232.6 581.0 233.2C582.3 233.8 583.2 234.6 584.5 234.9C585.7 235.2 586.7 234.9 587.9 234.9C589.2 234.9 590.1 234.4 591.4 234.9C592.7 235.4 593.6 236.6 594.9 237.5C596.1 238.5 597.1 239.6 598.3 240.1C599.6 240.7 600.5 240.4 601.8 240.6C603.1 240.7 604.3 241.4 605.3 241.0C606.2 240.6 606.4 239.3 607.0 238.4C607.6 237.4 607.9 236.4 608.7 235.8C609.6 235.2 610.6 235.2 611.6 234.9C612.7 234.6 613.4 234.4 614.5 234.1C615.6 233.7 616.3 233.1 617.4 233.2C618.5 233.2 619.2 233.9 620.3 234.3C621.3 234.8 622.1 235.1 623.2 235.5C624.2 235.9 624.9 236.3 626.1 236.7C627.2 237.0 628.3 237.2 629.5 237.5C630.8 237.8 631.7 238.1 633.0 238.4C634.3 238.7 635.2 239.0 636.5 239.3C637.7 239.5 638.7 239.4 639.9 239.5C641.2 239.6 642.1 239.7 643.4 239.8C644.7 239.9 645.4 240.1 646.9 240.1C648.3 240.1 649.6 239.8 651.2 239.7C652.8 239.5 654.2 238.9 655.5 239.3C656.8 239.6 657.2 240.6 658.1 241.4C659.1 242.2 660.2 243.2 660.7 243.6 M567.1 215.0C566.9 215.7 566.3 217.5 565.8 218.9C565.4 220.3 564.5 221.4 564.5 222.8C564.5 224.1 565.4 225.0 565.8 226.3C566.3 227.5 566.5 228.6 567.1 229.7C567.8 230.8 568.5 231.4 569.3 232.3C570.1 233.3 571.0 233.7 571.5 234.9C571.9 236.2 571.7 237.7 571.9 239.3C572.1 240.8 572.3 242.8 572.3 243.6 M577.5 231.5C577.2 231.9 576.4 233.1 575.8 234.1C575.2 235.0 574.5 235.5 574.1 236.7C573.6 237.8 573.5 238.9 573.2 240.1C572.9 241.4 572.5 243.0 572.3 243.6 M626.9 237.5 L626.9 243.8 M571.8 246.9C571.7 247.6 571.5 249.1 571.5 250.4C571.5 251.7 571.6 252.6 571.8 253.9C571.9 255.1 571.9 256.1 572.0 257.3C572.1 258.6 572.0 259.5 572.3 260.8C572.7 262.1 573.4 263.0 574.1 264.3C574.7 265.5 575.0 266.7 575.8 267.7C576.6 268.8 577.4 269.1 578.4 269.9C579.4 270.7 579.9 271.4 581.0 272.1C582.1 272.7 583.2 273.0 584.5 273.5C585.7 274.0 586.7 274.4 587.9 275.0C589.2 275.5 590.2 275.9 591.4 276.4C592.6 276.9 593.4 277.3 594.5 277.8C595.7 278.3 596.5 278.7 597.6 279.2C598.8 279.7 599.6 280.0 600.8 280.6C601.9 281.1 602.7 281.4 603.9 281.9C605.0 282.4 605.9 282.9 607.0 283.3C608.1 283.8 608.8 284.0 609.9 284.3C610.9 284.7 611.7 285.0 612.8 285.3C613.8 285.7 614.6 286.0 615.7 286.4C616.7 286.7 617.5 287.0 618.5 287.4C619.6 287.7 620.4 288.0 621.4 288.4C622.5 288.8 623.0 289.7 624.3 289.4C625.6 289.1 627.8 288.1 628.7 286.8C629.5 285.5 628.9 284.0 629.1 282.5C629.2 280.9 629.5 279.6 629.5 278.1C629.6 276.7 629.4 275.9 629.4 274.7C629.3 273.4 629.3 272.5 629.2 271.2C629.2 269.9 629.1 269.0 629.1 267.7C629.0 266.5 629.0 265.5 628.9 264.3C628.9 263.0 628.9 262.1 628.8 260.8C628.7 259.5 628.7 258.6 628.7 257.3C628.6 256.1 628.4 255.1 628.3 253.9C628.2 252.6 628.1 251.7 628.0 250.4C627.8 249.1 627.7 247.6 627.6 246.9 M629.5 278.1C630.1 278.2 631.5 278.2 632.6 278.3C633.8 278.4 634.6 278.4 635.8 278.5C636.9 278.5 637.7 278.6 638.9 278.6C640.0 278.7 640.9 278.8 642.0 278.8C643.1 278.9 643.9 279.0 645.1 279.0C646.3 279.0 647.3 279.0 648.6 279.0C649.9 279.0 650.8 279.0 652.1 279.0C653.3 279.0 654.2 279.0 655.5 279.0C656.8 279.0 657.7 279.5 659.0 279.0C660.3 278.5 661.2 277.3 662.5 276.4C663.7 275.4 665.3 274.3 665.9 273.8 M654.7 246.9C654.9 247.6 655.6 249.1 656.1 250.4C656.6 251.7 657.0 252.6 657.5 253.9C658.1 255.1 658.4 256.2 659.0 257.3C659.6 258.4 660.1 259.0 660.7 259.9C661.4 260.9 661.8 261.6 662.5 262.5C663.1 263.5 663.5 264.2 664.2 265.1C664.8 266.1 665.3 266.7 665.9 267.7C666.6 268.8 667.0 269.7 667.7 270.8C668.3 271.9 668.7 272.7 669.4 273.8C670.0 274.9 670.5 275.8 671.1 277.0C671.8 278.1 672.2 279.0 672.9 280.2C673.5 281.3 674.2 282.0 674.6 283.3C675.0 284.7 674.9 286.1 675.0 287.7C675.2 289.2 675.4 291.2 675.5 292.0 M659.9 247.8C660.2 248.4 661.1 249.8 661.9 251.0C662.6 252.1 663.2 253.0 663.9 254.2C664.6 255.3 665.2 256.2 665.9 257.3C666.7 258.5 667.3 259.3 668.1 260.4C668.9 261.5 669.5 262.3 670.3 263.4C671.0 264.5 671.6 265.3 672.4 266.4C673.2 267.5 673.9 268.4 674.6 269.5C675.3 270.5 675.7 271.1 676.3 272.1C677.0 273.0 677.4 273.7 678.1 274.7C678.7 275.6 679.1 276.3 679.8 277.3C680.4 278.2 680.9 278.7 681.5 279.9C682.2 281.1 682.6 282.3 683.2 283.8C683.9 285.2 684.7 286.9 685.0 287.7 M581.0 272.1C580.0 272.8 577.4 274.6 575.5 276.0C573.6 277.4 572.6 278.5 570.7 279.7C568.9 281.0 567.4 281.7 565.4 282.9C563.4 284.2 561.7 285.2 559.8 286.5C557.9 287.9 555.9 289.6 555.0 290.3 M591.4 276.4C591.7 276.9 592.3 278.2 592.8 279.3C593.4 280.3 593.8 281.1 594.3 282.2C594.8 283.2 595.5 284.0 595.7 285.1C595.9 286.1 595.5 287.0 595.3 288.1C595.1 289.2 595.0 290.0 594.9 291.1C594.7 292.2 594.6 293.0 594.4 294.2C594.3 295.3 594.3 296.0 594.0 297.2C593.7 298.4 593.1 299.4 592.6 300.7C592.0 301.9 591.6 302.9 591.1 304.1C590.6 305.4 590.2 306.3 589.7 307.6C589.1 308.9 588.6 309.8 587.9 311.1C587.3 312.3 586.2 313.3 586.2 314.5C586.2 315.8 587.3 316.7 587.9 318.0C588.6 319.3 589.2 320.3 589.7 321.5C590.1 322.6 590.2 323.3 590.5 324.3C590.8 325.4 591.1 326.2 591.4 327.2C591.7 328.3 592.5 329.2 592.3 330.1C592.0 331.0 590.9 331.5 590.1 332.3C589.3 333.1 588.3 334.1 587.9 334.5 M624.3 289.4C624.3 290.0 624.1 291.4 624.0 292.6C623.9 293.7 623.9 294.6 623.7 295.7C623.6 296.9 623.8 297.7 623.5 298.9C623.1 300.1 622.5 301.1 622.0 302.4C621.5 303.7 621.1 304.6 620.6 305.9C620.0 307.1 619.5 308.1 619.1 309.3C618.7 310.6 618.6 311.5 618.3 312.8C617.9 314.1 617.2 315.0 617.4 316.3C617.6 317.5 618.8 318.5 619.6 319.7C620.4 321.0 621.6 321.9 621.7 323.2C621.9 324.5 620.9 325.4 620.4 326.7C619.9 327.9 620.0 329.1 619.1 330.1C618.3 331.2 616.9 331.5 615.7 332.3C614.4 333.1 612.8 334.1 612.2 334.5 M555.0 313.7C555.6 313.8 557.2 314.2 558.5 314.5C559.7 314.8 560.7 315.1 561.9 315.4C563.2 315.7 564.2 316.1 565.4 316.3C566.6 316.4 567.3 316.3 568.4 316.3C569.5 316.3 570.4 316.3 571.5 316.3C572.6 316.3 573.4 316.3 574.5 316.3C575.6 316.3 576.2 316.4 577.5 316.3C578.9 316.1 580.3 315.7 581.9 315.4C583.5 315.1 585.4 314.7 586.2 314.5 M698.8 245.2C699.4 245.5 700.7 246.3 701.7 246.9C702.8 247.6 703.6 248.0 704.6 248.7C705.7 249.3 706.5 250.4 707.5 250.4C708.5 250.4 709.2 249.3 710.1 248.7C711.1 248.0 711.6 247.6 712.7 246.9C713.8 246.3 715.1 245.0 716.2 245.2C717.3 245.4 717.8 246.8 718.8 247.8C719.7 248.8 720.5 249.6 721.4 250.4C722.3 251.2 722.8 251.7 723.7 252.4C724.5 253.2 725.2 253.7 726.0 254.4C726.8 255.2 727.3 255.9 728.3 256.5C729.4 257.1 730.5 257.3 731.8 257.8C733.0 258.2 734.0 259.0 735.2 259.1C736.5 259.1 737.4 258.5 738.7 258.2C740.0 257.9 741.2 257.0 742.2 257.3C743.1 257.6 743.3 259.0 743.9 259.9C744.5 260.9 744.8 261.7 745.6 262.5C746.5 263.3 747.6 263.6 748.8 264.3C749.9 264.9 750.7 265.4 751.9 266.0C753.0 266.6 754.4 267.4 755.0 267.7 M728.3 256.5C727.7 256.8 726.1 257.6 724.8 258.2C723.6 258.8 721.5 259.3 721.4 259.9C721.3 260.6 723.2 261.0 724.3 261.7C725.3 262.3 726.1 262.8 727.2 263.4C728.2 264.0 728.7 264.9 730.0 265.1C731.4 265.4 732.8 264.9 734.4 264.7C736.0 264.5 737.6 263.9 738.7 264.3C739.8 264.7 739.8 265.9 740.4 266.9C741.1 267.8 741.1 269.1 742.2 269.5C743.3 269.8 744.9 268.9 746.5 268.6C748.1 268.3 750.0 267.9 750.8 267.7 M726.6 271.2C727.1 271.4 728.4 271.7 729.5 272.1C730.5 272.4 731.3 272.6 732.4 272.9C733.4 273.2 734.2 273.4 735.2 273.8C736.3 274.2 737.1 274.5 738.1 275.0C739.2 275.4 740.0 275.7 741.0 276.1C742.1 276.5 742.4 277.5 743.9 277.3C745.4 277.0 747.6 274.7 749.1 274.7C750.6 274.7 751.0 276.3 752.1 277.3C753.1 278.2 754.5 279.4 755.0 279.9 M555.0 352.5C555.6 352.6 556.9 352.7 558.0 352.7C559.1 352.8 560.0 352.9 561.1 353.0C562.2 353.0 563.0 353.1 564.1 353.2C565.2 353.3 566.3 354.1 567.1 353.4C568.0 352.7 568.2 350.9 568.9 349.5C569.5 348.1 569.8 346.6 570.6 345.6C571.4 344.6 572.2 344.5 573.2 343.9C574.2 343.2 574.8 342.8 575.8 342.1C576.8 341.5 577.4 341.0 578.4 340.4C579.4 339.8 580.1 339.5 581.0 338.7C581.9 337.8 582.9 336.3 583.3 335.8 M567.1 353.4C567.4 353.9 568.2 355.0 568.9 356.0C569.5 356.9 570.0 357.6 570.6 358.6C571.2 359.5 572.1 360.1 572.3 361.2C572.5 362.3 572.0 363.4 571.8 364.7C571.5 365.9 571.4 366.9 571.2 368.1C571.0 369.4 570.4 370.5 570.6 371.6C570.8 372.7 571.7 373.2 572.3 374.2C573.0 375.1 573.4 375.8 574.1 376.8C574.7 377.7 575.2 378.4 575.8 379.4C576.4 380.3 577.0 381.0 577.5 382.0C578.1 383.0 578.3 383.8 578.7 384.9C579.1 385.9 579.4 386.7 579.8 387.8C580.3 388.8 580.8 389.5 581.0 390.7C581.2 391.8 581.0 392.9 581.0 394.1C581.0 395.4 580.8 396.4 581.0 397.6C581.2 398.8 581.7 399.4 582.2 400.5C582.6 401.5 582.9 402.3 583.3 403.4C583.7 404.4 584.0 405.1 584.5 406.3C584.9 407.4 585.2 408.5 585.6 409.7C586.0 411.0 586.3 411.9 586.8 413.2C587.2 414.5 587.9 415.4 587.9 416.7C588.0 417.9 587.4 418.8 587.1 420.0C586.7 421.2 586.4 422.7 586.2 423.3 M591.4 347.3C591.7 346.7 592.5 345.1 593.1 343.9C593.8 342.6 593.9 341.2 594.9 340.4C595.8 339.6 597.1 339.7 598.3 339.2C599.6 338.8 600.5 338.5 601.8 338.1C603.1 337.7 604.1 337.5 605.3 336.9C606.4 336.4 607.4 335.5 607.9 335.2 M591.4 347.3C591.4 348.0 591.4 349.5 591.4 350.8C591.4 352.1 591.0 353.2 591.4 354.3C591.8 355.3 592.9 355.7 593.7 356.6C594.6 357.4 595.2 358.0 596.0 358.9C596.9 359.7 597.3 361.2 598.3 361.2C599.4 361.1 600.5 359.5 601.8 358.6C603.1 357.6 604.3 357.4 605.3 356.0C606.2 354.6 606.0 351.7 607.0 350.8C607.9 349.9 609.2 351.0 610.5 351.1C611.7 351.2 612.7 351.3 613.9 351.4C615.2 351.5 616.2 351.7 617.4 351.7C618.6 351.7 619.3 351.5 620.4 351.4C621.5 351.4 622.3 351.3 623.5 351.2C624.6 351.2 625.4 351.1 626.5 351.0C627.6 350.9 628.3 350.9 629.5 350.8C630.7 350.7 631.7 350.4 633.0 350.2C634.3 350.0 635.2 349.9 636.5 349.6C637.7 349.4 638.7 348.7 639.9 349.1C641.2 349.4 642.1 350.7 643.4 351.7C644.7 352.6 645.3 353.5 646.9 354.3C648.4 355.1 651.1 355.7 652.1 356.0 M572.3 361.2C572.9 361.3 574.3 361.6 575.4 361.8C576.5 362.1 577.3 362.3 578.4 362.5C579.5 362.7 580.3 362.9 581.4 363.1C582.5 363.4 583.4 363.4 584.5 363.8C585.5 364.2 586.1 364.9 587.1 365.5C588.0 366.2 589.5 366.2 589.7 367.3C589.8 368.3 588.6 369.7 587.9 371.2C587.3 372.6 586.2 373.9 586.2 375.1C586.2 376.3 587.3 376.7 587.9 377.7C588.6 378.6 590.0 379.6 589.7 380.3C589.3 380.9 587.5 380.8 586.2 381.1C584.9 381.4 584.3 381.8 582.7 382.0C581.1 382.2 578.5 382.0 577.5 382.0 M598.3 361.2C598.6 361.7 599.2 363.0 599.8 364.1C600.3 365.1 600.7 365.9 601.2 367.0C601.7 368.0 602.6 368.8 602.7 369.9C602.8 370.9 602.1 371.7 601.8 372.7C601.5 373.8 601.2 374.6 600.9 375.6C600.6 376.7 600.5 377.5 600.1 378.5C599.6 379.6 599.0 380.4 598.3 381.4C597.7 382.5 597.2 383.2 596.6 384.3C596.0 385.4 595.8 386.2 594.9 387.2C593.9 388.2 592.7 388.8 591.4 389.8C590.1 390.7 589.2 392.1 587.9 392.4C586.7 392.7 585.7 391.8 584.5 391.5C583.2 391.2 581.6 390.8 581.0 390.7 M581.0 397.6C581.6 397.6 583.2 397.6 584.5 397.6C585.7 397.6 586.7 397.6 587.9 397.6C589.2 397.6 590.1 397.6 591.4 397.6C592.7 397.6 593.7 397.0 594.9 397.6C596.0 398.2 596.5 399.8 597.5 401.1C598.4 402.3 598.8 404.0 600.1 404.5C601.3 405.0 602.8 404.0 604.4 403.7C606.0 403.3 607.3 402.6 608.7 402.8C610.2 402.9 610.9 403.9 612.2 404.5C613.5 405.2 614.9 405.1 615.7 406.3C616.5 407.4 616.2 409.0 616.5 410.6C616.8 412.2 616.6 413.7 617.4 414.9C618.2 416.2 619.6 416.6 620.9 417.5C622.1 418.5 623.1 419.6 624.3 420.1C625.6 420.6 626.5 420.1 627.8 420.1C629.1 420.1 630.0 420.1 631.3 420.1C632.5 420.1 633.7 419.7 634.7 420.1C635.8 420.5 636.2 421.6 637.0 422.4C637.9 423.3 638.9 424.3 639.3 424.7 M624.3 420.1 L624.3 423.6 M649.5 369.9C649.3 370.4 648.8 371.8 648.4 372.9C648.0 374.0 647.7 374.8 647.3 375.9C646.9 377.0 646.6 377.8 646.2 379.0C645.8 380.1 645.2 380.8 645.1 382.0C645.0 383.2 645.4 384.2 645.6 385.5C645.7 386.7 645.8 387.7 646.0 388.9C646.1 390.2 646.3 391.1 646.4 392.4C646.6 393.7 646.6 394.6 646.9 395.9C647.1 397.1 647.6 398.1 648.0 399.3C648.4 400.6 648.7 401.5 649.2 402.8C649.6 404.1 649.6 405.2 650.3 406.3C651.1 407.3 652.2 407.7 653.2 408.6C654.3 409.4 655.0 410.0 656.1 410.9C657.2 411.7 658.0 412.3 659.0 413.2C659.9 414.0 660.4 414.7 661.3 415.5C662.1 416.3 662.8 417.0 663.6 417.8C664.5 418.7 665.5 419.1 665.9 420.1C666.3 421.1 665.9 422.8 665.9 423.4 M649.5 375.1C649.7 375.7 650.3 377.3 650.8 378.5C651.2 379.8 652.3 380.4 652.1 382.0C651.8 383.6 650.6 386.6 649.5 387.2C648.3 387.8 646.6 385.8 646.0 385.5 M641.7 409.7C642.4 409.6 644.4 409.4 646.0 409.3C647.6 409.1 649.0 408.7 650.3 408.9C651.6 409.0 652.2 409.8 653.2 410.3C654.3 410.8 655.0 411.2 656.1 411.7C657.2 412.3 658.5 412.9 659.0 413.2 M641.7 409.7C641.5 410.4 641.1 411.9 640.8 413.2C640.5 414.5 639.6 415.4 639.9 416.7C640.2 417.9 641.6 418.9 642.5 420.1C643.5 421.4 644.6 423.0 645.1 423.6 M665.9 421.9C666.6 421.8 668.1 421.7 669.4 421.6C670.7 421.5 671.6 421.4 672.9 421.3C674.1 421.2 674.9 421.2 676.3 421.0C677.7 420.8 679.1 420.4 680.6 420.1C682.2 419.8 683.9 418.6 685.0 419.3C686.1 419.9 686.4 422.8 686.7 423.6 M627.8 335.8C628.1 336.3 628.8 337.6 629.5 338.7C630.3 339.7 631.0 340.5 631.8 341.6C632.7 342.6 633.3 343.4 634.1 344.4C635.0 345.5 635.4 346.5 636.5 347.3C637.5 348.2 639.3 348.7 639.9 349.1 M584.5 425.2C584.1 425.7 583.4 426.8 582.7 427.8C582.1 428.8 581.4 429.4 581.0 430.4C580.6 431.4 580.8 432.4 580.6 433.5C580.5 434.7 580.4 435.5 580.3 436.6C580.2 437.8 580.1 438.6 580.0 439.8C579.8 440.9 579.7 441.7 579.6 442.9C579.5 444.0 579.2 444.9 579.3 446.0C579.4 447.1 579.8 447.9 580.1 449.0C580.4 450.1 580.7 451.0 581.0 452.1C581.3 453.2 581.5 454.0 581.9 455.1C582.2 456.2 582.3 457.1 582.7 458.1C583.1 459.2 583.6 459.9 584.1 460.9C584.6 461.9 585.0 462.7 585.5 463.7C586.0 464.7 586.4 465.4 586.9 466.4C587.4 467.5 587.8 468.2 588.3 469.2C588.8 470.2 589.2 470.8 589.7 472.0C590.1 473.1 590.2 474.2 590.5 475.5C590.8 476.7 591.1 477.7 591.4 478.9C591.7 480.2 591.9 481.1 592.3 482.4C592.6 483.7 592.7 484.7 593.1 485.9C593.6 487.0 594.0 487.7 594.6 488.7C595.1 489.8 595.5 490.6 596.0 491.6C596.5 492.7 597.0 493.4 597.5 494.5C597.9 495.6 598.0 496.4 598.3 497.6C598.6 498.7 598.9 499.5 599.2 500.6C599.5 501.7 599.7 502.5 600.1 503.6C600.4 504.7 600.6 505.6 600.9 506.7C601.2 507.7 601.5 508.5 601.8 509.5C602.1 510.6 602.3 511.4 602.7 512.4C603.0 513.5 602.7 514.4 603.5 515.3C604.3 516.3 605.7 516.8 607.0 517.7C608.3 518.5 609.8 519.6 610.5 520.0 M610.5 520.0C611.1 519.9 612.7 519.6 613.9 519.3C615.2 519.1 616.1 518.9 617.4 518.6C618.7 518.4 619.6 518.2 620.9 517.9C622.1 517.6 623.1 517.4 624.3 517.1C625.6 516.7 626.5 516.5 627.8 516.2C629.1 515.9 630.1 515.8 631.3 515.3C632.4 514.8 632.9 514.2 633.9 513.6C634.8 513.0 635.5 512.5 636.5 511.9C637.4 511.2 638.1 510.8 639.1 510.1C640.0 509.5 640.8 509.1 641.7 508.4C642.5 507.7 643.0 507.0 643.8 506.2C644.6 505.4 645.2 504.8 646.0 504.1C646.8 503.3 647.4 502.7 648.2 501.9C648.9 501.1 649.6 500.8 650.3 499.7C651.0 498.7 651.4 497.5 652.1 496.3C652.7 495.0 653.2 494.1 653.8 492.8C654.4 491.5 655.3 490.6 655.5 489.3C655.8 488.1 655.2 487.1 655.1 485.9C654.9 484.6 654.3 483.3 654.7 482.4C655.1 481.4 656.3 481.3 657.3 480.7C658.2 480.0 658.9 479.6 659.9 478.9C660.8 478.3 661.7 478.1 662.5 477.2C663.2 476.2 663.5 475.0 664.2 473.7C664.8 472.5 665.7 471.5 665.9 470.3C666.1 469.0 665.6 468.1 665.3 466.8C665.1 465.5 665.0 464.6 664.8 463.3C664.6 462.1 663.9 461.0 664.2 459.9C664.5 458.7 665.6 458.0 666.5 457.0C667.3 455.9 668.0 455.1 668.8 454.1C669.7 453.0 670.2 452.1 671.1 451.2C672.0 450.3 672.8 449.8 673.7 449.0C674.7 448.2 675.4 447.7 676.3 446.9C677.3 446.1 678.0 445.5 678.9 444.7C679.9 443.9 680.6 443.6 681.5 442.5C682.5 441.5 683.2 440.3 684.1 439.1C685.1 437.8 686.3 436.8 686.7 435.6C687.2 434.4 686.6 433.7 686.5 432.6C686.4 431.5 686.4 430.6 686.3 429.5C686.2 428.4 686.1 427.1 686.1 426.5 M579.3 446.0C580.2 446.0 582.9 445.9 584.5 446.0C586.1 446.1 586.7 446.4 587.9 446.6C589.2 446.8 590.1 446.9 591.4 447.2C592.7 447.4 593.6 447.6 594.9 447.7C596.1 447.8 597.1 447.7 598.3 447.7C599.6 447.7 600.5 447.7 601.8 447.7C603.1 447.7 604.0 447.7 605.3 447.7C606.5 447.7 607.5 447.7 608.7 447.7C610.0 447.7 610.8 447.7 612.2 447.7C613.6 447.8 614.9 448.0 616.5 448.2C618.1 448.3 619.1 448.7 620.9 448.6C622.6 448.5 625.1 447.9 626.1 447.7 M613.9 451.2C613.9 451.8 613.7 453.2 613.6 454.3C613.5 455.5 613.4 456.3 613.2 457.4C613.1 458.6 613.0 459.4 612.9 460.6C612.8 461.7 612.7 462.5 612.5 463.7C612.4 464.8 612.7 465.3 612.2 466.8C611.7 468.3 610.0 470.2 609.6 472.0C609.2 473.7 609.9 474.7 610.0 476.3C610.2 477.9 610.5 479.3 610.5 480.7C610.4 482.0 609.9 482.6 609.6 483.7C609.3 484.8 609.0 485.6 608.7 486.7C608.4 487.8 608.2 488.6 607.9 489.8C607.5 490.9 607.7 492.1 607.0 492.8C606.3 493.5 605.0 493.2 603.8 493.4C602.7 493.6 601.8 493.7 600.6 493.9C599.5 494.2 598.0 494.4 597.5 494.5 M613.9 451.2C614.6 451.0 616.1 450.4 617.4 449.9C618.7 449.4 620.2 448.8 620.9 448.6 M626.1 447.7C626.7 448.0 628.6 448.6 629.5 449.5C630.5 450.3 630.6 451.3 631.3 452.4C631.9 453.4 632.4 454.2 633.0 455.2C633.6 456.3 633.9 457.0 634.7 458.1C635.5 459.3 636.4 460.3 637.3 461.6C638.3 462.9 638.8 463.9 639.9 465.1C641.0 466.2 643.2 466.8 643.4 467.7C643.6 468.5 641.9 468.9 641.1 469.7C640.2 470.4 639.6 471.0 638.8 471.7C637.9 472.4 637.4 472.7 636.5 473.7C635.6 474.7 634.8 475.9 633.9 477.2C632.9 478.5 632.4 479.9 631.3 480.7C630.1 481.4 629.1 481.0 627.8 481.2C626.5 481.4 625.6 481.6 624.3 481.8C623.1 482.0 622.1 481.8 620.9 482.4C619.6 483.0 618.7 484.0 617.4 485.0C616.1 485.9 614.9 487.7 613.9 487.6C613.0 487.4 612.8 485.4 612.2 484.1C611.6 482.9 610.8 481.3 610.5 480.7 M617.4 432.1C617.3 432.9 617.1 434.9 617.0 436.5C616.8 438.1 616.2 439.4 616.5 440.8C616.8 442.2 617.9 443.0 618.7 444.3C619.5 445.5 620.5 447.1 620.9 447.7 M617.4 432.1C618.3 431.3 620.9 428.7 622.2 427.4C623.4 426.2 623.9 425.6 624.3 425.2 M629.5 449.5C630.1 449.3 631.4 448.7 632.4 448.3C633.5 447.9 634.2 447.6 635.3 447.2C636.4 446.7 637.2 446.5 638.2 446.0C639.2 445.5 639.8 445.0 640.8 444.5C641.7 443.9 642.4 443.5 643.4 443.0C644.3 442.4 645.0 442.0 646.0 441.4C646.9 440.9 647.6 440.0 648.6 439.9C649.6 439.8 650.4 440.5 651.5 440.8C652.5 441.1 653.3 441.3 654.4 441.7C655.4 442.0 656.6 441.8 657.3 442.5C657.9 443.2 657.5 444.5 657.7 445.6C657.8 446.7 658.0 447.5 658.1 448.6C658.3 449.7 658.4 450.5 658.6 451.6C658.7 452.7 659.1 453.5 659.0 454.7C658.9 455.9 658.4 456.9 658.1 458.1C657.8 459.4 657.9 460.3 657.3 461.6C656.6 462.9 655.6 463.8 654.7 465.1C653.7 466.3 653.3 468.0 652.1 468.5C650.8 469.1 649.3 468.3 647.7 468.1C646.1 467.9 644.2 467.7 643.4 467.7 M648.6 439.9C649.2 439.1 650.8 436.7 652.1 435.6C653.3 434.5 654.2 434.5 655.5 433.9C656.8 433.2 658.4 433.1 659.0 432.1C659.6 431.2 659.0 429.9 659.0 428.7C659.0 427.4 659.0 425.8 659.0 425.2 M659.0 432.1C659.4 432.6 660.4 433.8 661.2 434.7C661.9 435.7 662.7 436.2 663.3 437.3C664.0 438.4 664.1 439.5 664.6 440.8C665.1 442.1 665.2 444.3 665.9 444.3C666.6 444.3 668.1 442.1 668.5 440.8C668.9 439.5 668.2 438.6 668.1 437.3C667.9 436.1 668.0 435.1 667.7 433.9C667.3 432.6 666.6 431.7 665.9 430.4C665.3 429.1 664.5 427.6 664.2 426.9 M652.1 468.5C652.2 469.2 652.5 470.7 652.7 472.0C652.9 473.3 653.1 474.2 653.4 475.5C653.6 476.7 653.8 477.7 654.0 478.9C654.2 480.2 654.5 481.8 654.7 482.4 M634.7 500.6C634.4 499.5 635.8 498.9 636.5 498.0C637.1 497.0 637.1 495.7 638.2 495.4C639.3 495.1 641.7 495.3 642.5 496.3C643.3 497.2 643.3 499.2 642.5 500.6C641.7 502.0 639.6 504.1 638.2 504.1C636.8 504.1 635.0 501.7 634.7 500.6 M721.4 427.8C722.1 428.1 722.2 430.3 722.7 431.7C723.2 433.1 723.9 434.4 724.0 435.6C724.1 436.8 723.4 437.4 723.1 438.5C722.8 439.5 722.6 440.3 722.2 441.4C721.9 442.4 721.7 443.1 721.4 444.3C721.0 445.4 720.6 446.5 720.2 447.7C719.8 449.0 719.5 449.9 719.1 451.2C718.6 452.5 718.4 453.4 717.9 454.7C717.5 455.9 717.1 456.9 716.6 458.1C716.1 459.4 715.8 460.3 715.3 461.6C714.8 462.9 714.5 463.8 714.0 465.1C713.5 466.3 713.3 467.3 712.7 468.5C712.2 469.8 711.6 470.7 711.0 472.0C710.3 473.3 709.9 474.2 709.2 475.5C708.6 476.7 708.5 478.0 707.5 478.9C706.6 479.9 705.3 480.0 704.0 480.7C702.8 481.3 701.6 482.6 700.6 482.4C699.5 482.2 699.2 480.7 698.4 479.8C697.6 478.8 696.7 478.5 696.2 477.2C695.8 475.9 696.0 474.4 695.8 472.9C695.7 471.3 695.2 470.0 695.4 468.5C695.5 467.1 696.1 466.3 696.5 465.1C697.0 463.8 697.3 462.9 697.7 461.6C698.1 460.3 698.6 459.4 698.8 458.1C699.1 456.9 699.0 455.9 699.1 454.7C699.2 453.4 699.3 452.5 699.4 451.2C699.5 449.9 699.4 449.0 699.7 447.7C700.0 446.5 700.5 445.5 701.0 444.3C701.5 443.0 701.3 441.6 702.3 440.8C703.3 440.0 705.1 440.2 706.6 439.9C708.2 439.6 709.7 439.9 711.0 439.1C712.3 438.3 712.6 436.9 713.6 435.6C714.5 434.3 715.2 433.2 716.2 432.1C717.1 431.1 717.8 430.8 718.8 430.0C719.7 429.2 720.7 427.5 721.4 427.8 M643.4 426.9 L646.9 428.7 M131.3 120.0C131.4 120.7 131.6 122.3 131.9 123.6C132.1 125.0 132.2 125.9 132.5 127.3C132.7 128.6 132.8 129.6 133.1 130.9C133.3 132.3 133.8 133.4 133.7 134.6C133.5 135.8 132.8 136.4 132.2 137.5C131.7 138.5 131.3 139.3 130.8 140.4C130.2 141.5 129.8 142.2 129.3 143.3C128.8 144.4 128.4 145.1 127.9 146.2C127.3 147.3 126.6 148.0 126.4 149.1C126.2 150.2 126.8 151.0 127.0 152.2C127.2 153.3 127.4 154.1 127.6 155.2C127.8 156.3 128.0 157.1 128.2 158.2C128.4 159.3 128.4 160.3 128.8 161.3C129.3 162.3 130.0 162.8 130.6 163.7C131.3 164.6 132.5 165.2 132.5 166.1C132.5 167.0 131.3 167.6 130.6 168.5C130.0 169.4 129.5 170.1 128.8 171.0C128.2 171.8 127.7 172.5 127.0 173.4C126.3 174.3 125.9 174.9 125.2 175.8C124.5 176.7 124.0 177.3 123.4 178.2C122.7 179.1 122.2 179.8 121.5 180.7C120.9 181.6 120.3 182.2 119.6 183.1C118.9 184.0 118.4 184.6 117.7 185.5C117.0 186.4 116.4 187.1 115.7 187.9C115.0 188.8 114.5 189.5 113.8 190.4C113.1 191.3 112.4 191.7 111.8 192.8C111.3 193.9 111.2 194.9 110.9 196.2C110.5 197.4 110.3 198.3 109.9 199.6C109.5 200.8 109.3 201.7 108.9 203.0C108.6 204.2 108.3 205.1 108.0 206.4C107.6 207.6 107.1 208.5 107.0 209.8C106.9 211.1 107.4 212.1 107.6 213.4C107.8 214.8 108.0 215.7 108.2 217.1C108.4 218.4 108.6 219.4 108.8 220.7C109.0 222.0 109.0 223.1 109.4 224.3C109.9 225.6 110.6 226.3 111.2 227.4C111.9 228.5 112.4 229.3 113.1 230.4C113.7 231.5 114.2 232.3 114.9 233.4C115.5 234.6 116.2 235.3 116.7 236.5C117.1 237.7 117.1 238.8 117.3 240.1C117.5 241.5 117.7 242.4 117.9 243.8C118.1 245.1 118.3 246.1 118.5 247.4C118.7 248.7 118.9 249.8 119.1 251.0C119.4 252.3 119.8 253.5 119.9 254.0 M132.5 164.9C133.5 164.9 136.1 164.9 138.4 164.8C140.6 164.7 142.3 164.5 144.6 164.4C146.9 164.4 148.7 164.6 150.9 164.6C153.1 164.6 154.3 164.4 156.5 164.4C158.7 164.4 160.5 164.6 162.8 164.5C165.1 164.4 166.8 164.0 169.1 163.9C171.4 163.7 173.2 163.6 175.4 163.7C177.5 163.7 178.8 164.1 180.9 164.2C183.0 164.2 184.6 163.9 186.8 163.8C188.9 163.8 190.4 163.9 192.7 163.9C195.0 163.9 197.1 163.8 199.4 163.7C201.8 163.7 203.4 163.5 205.6 163.5C207.8 163.5 209.3 163.7 211.5 163.8C213.7 163.8 215.2 163.6 217.5 163.6C219.7 163.7 221.6 164.0 223.8 164.1C226.0 164.1 227.3 163.9 229.5 163.8C231.7 163.8 234.5 163.7 235.6 163.7 M235.6 172.2C236.2 172.3 237.5 172.6 238.6 172.8C239.7 173.0 240.6 173.2 241.7 173.4C242.8 173.6 243.6 173.8 244.7 174.0C245.8 174.2 246.6 174.3 247.7 174.6C248.9 174.9 249.8 175.4 251.0 175.8C252.2 176.3 253.0 176.6 254.2 177.0C255.4 177.5 256.4 178.4 257.4 178.2C258.5 178.1 259.0 177.0 259.9 176.2C260.8 175.5 261.4 174.9 262.3 174.2C263.2 173.5 264.6 172.0 264.7 172.2C264.9 172.3 263.7 174.0 263.1 175.0C262.5 176.0 262.1 176.8 261.5 177.8C260.9 178.9 260.5 179.6 259.9 180.7C259.3 181.8 258.8 182.7 258.2 183.9C257.7 185.1 257.2 185.9 256.6 187.1C256.0 188.3 254.6 189.6 255.0 190.4C255.4 191.2 257.3 191.1 258.6 191.6C260.0 192.0 261.1 192.9 262.3 192.8C263.5 192.7 264.2 191.6 265.3 191.0C266.4 190.3 267.2 189.8 268.4 189.2C269.5 188.5 270.3 188.0 271.4 187.3C272.5 186.7 273.4 185.5 274.4 185.5C275.4 185.5 276.0 186.7 276.8 187.3C277.7 188.0 278.4 188.5 279.3 189.2C280.2 189.8 280.8 190.3 281.7 191.0C282.6 191.6 283.0 192.7 284.1 192.8C285.2 192.9 286.4 192.0 287.8 191.6C289.1 191.1 290.7 190.6 291.4 190.4 M238.0 192.8C237.5 192.4 238.5 190.7 238.8 189.6C239.1 188.4 239.3 187.5 239.6 186.3C239.9 185.1 239.6 184.1 240.4 183.1C241.3 182.1 242.8 181.6 244.1 180.7C245.4 179.8 247.2 178.1 247.7 178.2C248.3 178.3 247.3 180.2 247.1 181.3C246.9 182.4 246.7 183.2 246.5 184.3C246.3 185.4 246.1 186.2 245.9 187.3C245.7 188.5 246.1 189.6 245.3 190.4C244.5 191.1 243.0 191.1 241.7 191.6C240.3 192.0 238.5 193.2 238.0 192.8 M323.0 178.2C322.4 178.6 321.1 179.5 320.0 180.2C319.0 180.9 318.2 181.4 317.1 182.1C316.1 182.8 315.3 183.4 314.2 184.1C313.1 184.8 312.4 185.3 311.3 186.0C310.2 186.7 309.6 187.4 308.4 187.9C307.2 188.5 306.2 188.6 305.0 188.9C303.8 189.3 302.8 189.5 301.6 189.9C300.4 190.2 299.4 190.5 298.2 190.9C297.0 191.2 296.1 191.5 294.8 191.8C293.6 192.2 292.5 192.3 291.4 192.8C290.3 193.3 289.9 194.0 289.0 194.6C288.1 195.3 287.4 195.8 286.6 196.4C285.7 197.1 285.0 197.6 284.1 198.3C283.2 198.9 282.6 199.3 281.7 200.1C280.8 200.9 280.2 201.6 279.3 202.5C278.4 203.4 277.7 204.0 276.8 204.9C276.0 205.8 275.3 206.5 274.4 207.4C273.5 208.2 272.6 208.8 272.0 209.8C271.4 210.8 271.6 211.7 271.4 212.8C271.2 213.9 271.0 214.7 270.8 215.9C270.6 217.0 270.4 217.8 270.2 218.9C270.0 220.0 270.1 221.0 269.6 221.9C269.0 222.8 268.0 223.1 267.1 223.7C266.3 224.4 265.6 224.9 264.7 225.6C263.8 226.2 263.2 226.7 262.3 227.4C261.4 228.0 260.8 228.5 259.9 229.2C259.0 229.9 258.3 230.5 257.4 231.2C256.5 232.0 255.9 232.5 255.0 233.2C254.1 234.0 253.5 234.5 252.6 235.3C251.7 236.0 251.0 236.5 250.2 237.3C249.3 238.0 248.6 238.6 247.7 239.3C246.8 240.0 246.0 240.4 245.3 241.3C244.6 242.3 244.3 243.4 243.7 244.6C243.1 245.8 242.7 246.6 242.1 247.8C241.5 249.0 240.4 249.9 240.4 251.0C240.4 252.2 241.8 253.5 242.1 254.0 M240.4 251.0C239.9 250.9 238.6 250.4 237.5 250.1C236.5 249.7 235.7 249.5 234.6 249.1C233.6 248.7 232.8 248.5 231.7 248.1C230.6 247.8 229.9 247.5 228.8 247.2C227.7 246.8 227.1 246.5 225.9 246.2C224.7 245.9 223.6 245.8 222.2 245.6C220.9 245.4 219.9 245.2 218.6 245.0C217.3 244.7 216.3 244.6 215.0 244.4C213.6 244.1 212.5 243.7 211.3 243.8C210.1 243.8 209.5 244.2 208.4 244.5C207.4 244.8 206.6 244.9 205.5 245.2C204.4 245.5 203.7 245.7 202.6 245.9C201.5 246.2 200.7 246.4 199.7 246.7C198.6 246.9 197.9 247.1 196.8 247.4C195.7 247.7 194.8 248.0 193.7 248.3C192.6 248.6 191.8 248.9 190.7 249.2C189.6 249.5 188.8 249.8 187.7 250.1C186.6 250.5 185.5 250.3 184.6 251.0C183.8 251.8 183.3 253.5 183.0 254.0 M121.5 236.5C122.2 236.7 123.7 237.1 124.9 237.4C126.2 237.8 127.1 238.1 128.3 238.4C129.6 238.8 130.5 239.0 131.7 239.4C133.0 239.7 133.9 240.0 135.1 240.4C136.4 240.7 137.3 241.4 138.5 241.3C139.7 241.2 140.6 240.3 141.8 239.7C143.0 239.1 143.8 238.7 145.0 238.1C146.2 237.5 147.2 236.3 148.2 236.5C149.3 236.6 149.8 238.0 150.7 238.9C151.6 239.8 152.2 240.4 153.1 241.3C154.0 242.2 154.6 242.9 155.5 243.8C156.4 244.6 156.9 245.6 157.9 246.2C159.0 246.8 160.0 246.7 161.2 247.0C162.4 247.3 163.2 247.5 164.4 247.8C165.6 248.1 166.7 247.9 167.7 248.6C168.6 249.3 168.8 250.4 169.5 251.5C170.1 252.5 171.0 253.8 171.3 254.3 M122.8 238.9C123.0 240.0 123.5 242.8 124.2 245.2C124.9 247.5 125.9 249.9 126.5 251.5C127.2 253.1 127.4 253.6 127.6 254.0 M126.4 238.9C127.0 240.0 128.6 242.5 129.7 244.8C130.8 247.0 131.6 249.5 132.4 251.2C133.1 252.9 133.4 253.5 133.7 254.0 M138.0 255.8C138.2 256.4 138.7 257.7 139.0 258.7C139.4 259.8 139.6 260.6 140.0 261.6C140.3 262.7 140.6 263.4 141.0 264.6C141.3 265.7 141.6 266.7 141.9 268.0C142.3 269.2 142.5 270.1 142.9 271.4C143.3 272.6 143.5 273.5 143.9 274.8C144.2 276.0 144.5 276.9 144.8 278.1C145.2 279.4 145.3 280.4 145.8 281.5C146.3 282.7 147.0 283.3 147.6 284.3C148.3 285.3 148.8 286.0 149.5 287.0C150.1 288.0 150.6 288.7 151.3 289.7C151.9 290.7 152.2 291.7 153.1 292.5C153.9 293.3 154.9 293.5 155.9 294.1C157.0 294.7 157.7 295.1 158.8 295.7C159.8 296.3 160.5 296.7 161.6 297.3C162.6 297.9 163.4 298.3 164.4 298.9C165.5 299.5 166.2 300.0 167.2 300.6C168.3 301.1 169.0 301.7 170.1 302.2C171.1 302.7 171.9 302.8 172.9 303.2C173.9 303.6 174.7 303.8 175.7 304.2C176.8 304.6 177.5 304.8 178.6 305.2C179.6 305.6 180.4 305.8 181.4 306.2C182.4 306.6 183.2 306.9 184.2 307.2C185.3 307.6 185.9 307.8 187.1 308.2C188.3 308.6 189.4 309.0 190.7 309.5C192.0 309.9 193.1 310.1 194.3 310.7C195.6 311.2 196.4 311.7 197.6 312.3C198.8 312.9 199.6 313.3 200.8 313.9C202.0 314.5 203.0 314.9 204.0 315.5C205.1 316.1 205.6 316.7 206.5 317.3C207.4 318.0 208.0 318.5 208.9 319.2C209.8 319.8 210.4 320.3 211.3 321.0C212.2 321.6 213.0 322.0 213.8 322.8C214.5 323.6 214.9 324.3 215.6 325.2C216.2 326.1 216.7 326.8 217.4 327.7C218.1 328.5 218.5 329.2 219.2 330.1C219.9 331.0 220.0 331.6 221.0 332.5C222.0 333.4 223.3 334.0 224.7 334.9C226.0 335.8 227.0 337.1 228.3 337.4C229.7 337.6 230.6 336.6 232.0 336.1C233.3 335.7 234.3 335.2 235.6 334.9C236.9 334.7 237.9 334.9 239.2 334.9C240.6 334.9 242.0 334.3 242.9 334.9C243.8 335.6 243.6 337.2 244.1 338.6C244.5 339.9 245.3 341.0 245.3 342.2C245.3 343.5 244.5 344.3 244.1 345.4C243.6 346.6 243.3 347.5 242.9 348.7C242.4 349.9 242.1 350.7 241.7 351.9C241.2 353.1 240.9 354.0 240.4 355.2C240.0 356.3 239.7 357.2 239.2 358.4C238.8 359.6 238.5 360.4 238.0 361.6C237.5 362.8 237.0 363.7 236.4 364.9C235.8 366.0 235.4 366.9 234.8 368.1C234.2 369.3 233.3 370.1 233.2 371.3C233.0 372.5 233.7 373.4 234.0 374.6C234.3 375.8 234.5 376.6 234.8 377.8C235.1 379.0 235.4 379.6 235.6 381.0C235.7 382.5 235.6 383.9 235.6 385.5C235.6 387.2 235.6 389.2 235.6 390.0 M178.2 256.5C178.5 257.1 179.6 258.6 179.8 259.7C179.9 260.8 179.3 261.6 179.1 262.6C178.8 263.7 178.6 264.5 178.3 265.5C178.1 266.6 177.9 267.4 177.6 268.4C177.3 269.5 177.1 270.3 176.9 271.4C176.6 272.4 176.1 273.2 176.1 274.3C176.2 275.4 176.7 276.2 177.1 277.3C177.4 278.4 177.6 279.2 178.0 280.3C178.3 281.4 178.5 282.3 178.9 283.4C179.2 284.5 179.2 285.4 179.8 286.4C180.4 287.4 181.3 287.9 182.2 288.8C183.1 289.7 183.7 290.4 184.6 291.3C185.5 292.1 186.1 293.3 187.1 293.7C188.1 294.1 189.0 293.5 190.1 293.4C191.2 293.3 192.0 293.2 193.1 293.1C194.2 293.0 195.1 292.9 196.2 292.8C197.3 292.7 198.4 293.3 199.2 292.5C200.0 291.6 200.0 289.8 200.4 288.2C200.9 286.7 200.8 284.9 201.6 284.0C202.4 283.0 203.7 283.5 204.9 283.2C206.0 282.9 206.9 282.7 208.1 282.4C209.3 282.1 210.9 281.1 211.3 281.5C211.8 282.0 210.8 283.6 210.5 284.8C210.2 286.0 210.0 286.8 209.7 288.0C209.4 289.2 209.3 290.0 208.9 291.3C208.5 292.5 208.1 293.6 207.7 294.9C207.2 296.2 206.3 297.3 206.5 298.5C206.7 299.8 208.0 300.5 208.9 301.6C209.8 302.7 210.3 303.9 211.3 304.6C212.4 305.3 213.4 305.1 214.6 305.4C215.8 305.7 216.6 305.9 217.8 306.2C219.0 306.5 220.2 306.3 221.0 307.0C221.9 307.7 221.8 308.9 222.2 310.1C222.7 311.2 223.4 311.9 223.5 313.1C223.5 314.2 223.0 315.1 222.7 316.3C222.4 317.5 222.1 318.4 221.8 319.6C221.5 320.7 220.9 321.7 221.0 322.8C221.2 323.9 222.2 324.5 222.9 325.5C223.5 326.5 224.0 327.3 224.7 328.3C225.3 329.3 225.8 330.0 226.5 331.0C227.2 332.0 228.0 333.2 228.3 333.7 M238.8 256.5C239.1 257.1 239.3 259.6 240.4 259.7C241.6 259.9 244.4 257.7 245.3 257.3 M225.9 277.9C225.6 277.2 227.9 276.9 229.1 276.3C230.3 275.7 231.2 275.3 232.4 274.7C233.5 274.1 234.4 273.1 235.6 273.1C236.7 273.0 237.5 273.8 238.6 274.3C239.7 274.7 240.6 275.0 241.7 275.5C242.8 275.9 243.6 276.2 244.7 276.7C245.8 277.1 246.6 277.3 247.7 277.9C248.8 278.5 249.6 279.3 250.8 280.0C251.9 280.8 252.7 281.4 253.8 282.2C254.9 282.9 255.7 283.5 256.8 284.3C257.9 285.1 258.4 285.6 259.9 286.4C261.3 287.2 264.4 288.4 264.7 288.8C265.0 289.3 262.7 288.8 261.5 288.8C260.3 288.8 259.4 288.8 258.2 288.8C257.1 288.8 256.2 289.2 255.0 288.8C253.9 288.5 253.1 287.7 252.0 287.0C250.9 286.3 250.1 285.9 248.9 285.2C247.8 284.5 247.0 284.0 245.9 283.4C244.8 282.7 244.0 281.9 242.9 281.5C241.8 281.2 241.0 281.4 239.8 281.2C238.7 281.1 237.9 281.1 236.8 280.9C235.7 280.8 234.9 280.7 233.8 280.6C232.7 280.5 232.2 280.8 230.7 280.3C229.3 279.8 226.2 278.6 225.9 277.9 M261.1 293.7C261.6 293.4 262.9 292.7 263.9 292.1C264.9 291.5 265.7 291.0 266.7 290.4C267.8 289.9 268.5 288.9 269.6 288.8C270.7 288.8 271.6 289.6 272.8 290.0C274.0 290.5 274.9 290.8 276.0 291.3C277.2 291.7 279.3 291.9 279.3 292.5C279.2 293.0 277.0 293.6 275.6 294.3C274.3 295.0 273.3 295.8 272.0 296.1C270.7 296.4 269.7 295.8 268.4 295.7C267.0 295.6 266.0 295.4 264.7 295.3C263.4 295.1 261.7 295.0 261.1 294.9 M286.6 293.7C286.8 293.1 290.7 292.7 291.4 293.2C292.1 293.6 291.1 296.0 290.2 296.1C289.3 296.2 286.3 294.2 286.6 293.7 M245.3 334.9C245.7 334.5 246.8 333.4 247.7 332.5C248.6 331.6 249.3 331.0 250.2 330.1C251.0 329.2 251.7 328.5 252.6 327.7C253.5 326.8 254.1 326.1 255.0 325.2C255.9 324.3 256.4 323.4 257.4 322.8C258.5 322.2 259.5 322.3 260.7 322.0C261.9 321.7 262.7 321.5 263.9 321.2C265.1 320.9 266.7 319.9 267.1 320.4C267.6 320.8 266.6 322.4 266.3 323.6C266.0 324.8 265.8 325.7 265.5 326.8C265.2 328.0 264.4 329.9 264.7 330.1C265.0 330.2 266.3 328.5 267.1 327.7C268.0 326.8 268.5 325.7 269.6 325.2C270.7 324.8 271.9 325.2 273.2 325.2C274.5 325.2 275.5 325.2 276.8 325.2C278.2 325.2 279.2 325.2 280.5 325.2C281.8 325.2 282.9 325.1 284.1 325.2C285.4 325.3 286.0 325.6 287.2 325.8C288.3 326.1 289.1 326.2 290.2 326.4C291.3 326.7 292.1 326.8 293.2 327.0C294.3 327.3 295.1 327.5 296.3 327.7C297.4 327.8 298.3 327.7 299.5 327.7C300.7 327.7 301.5 327.7 302.7 327.7C303.9 327.7 305.2 327.0 306.0 327.7C306.8 328.3 306.7 330.0 307.2 331.3C307.6 332.6 307.7 333.8 308.4 334.9C309.1 336.0 309.9 336.5 310.8 337.4C311.7 338.2 312.4 338.9 313.2 339.8C314.1 340.7 314.8 341.3 315.7 342.2C316.6 343.1 317.1 344.0 318.1 344.6C319.1 345.3 320.0 345.4 321.1 345.9C322.2 346.3 323.0 346.6 324.0 347.1C325.1 347.5 325.9 347.8 327.0 348.3C328.1 348.7 329.4 349.3 330.0 349.5 M245.3 342.2C246.0 342.1 247.6 341.8 248.9 341.6C250.3 341.4 251.2 341.2 252.6 341.0C253.9 340.8 254.9 340.6 256.2 340.4C257.6 340.2 258.7 339.2 259.9 339.8C261.0 340.3 261.4 342.1 262.3 343.4C263.2 344.8 263.6 346.3 264.7 347.1C265.8 347.8 267.0 347.4 268.4 347.7C269.7 347.9 270.7 348.1 272.0 348.3C273.3 348.5 274.3 348.7 275.6 348.9C277.0 349.1 278.3 348.8 279.3 349.5C280.2 350.2 280.3 351.5 280.9 352.7C281.5 353.9 281.9 354.8 282.5 356.0C283.1 357.1 284.0 358.0 284.1 359.2C284.3 360.4 283.6 361.2 283.3 362.4C283.0 363.6 282.8 364.5 282.5 365.7C282.2 366.9 281.8 368.3 281.7 368.9 M306.0 334.9C306.1 335.5 306.4 336.9 306.6 338.0C306.8 339.1 307.0 339.9 307.2 341.0C307.4 342.1 307.6 342.9 307.8 344.0C308.0 345.1 308.2 345.8 308.4 347.1C308.6 348.3 308.8 349.4 309.0 350.7C309.2 352.0 309.4 353.0 309.6 354.3C309.8 355.7 310.0 356.6 310.2 358.0C310.4 359.3 310.0 360.5 310.8 361.6C311.6 362.7 313.1 363.2 314.5 364.0C315.8 364.9 317.1 366.6 318.1 366.5C319.1 366.3 319.1 364.4 319.7 363.2C320.3 362.1 320.7 361.2 321.3 360.0C321.9 358.8 322.0 356.9 323.0 356.8C323.9 356.6 325.2 358.3 326.5 359.2C327.8 360.1 329.3 361.2 330.0 361.6 M259.9 366.5C260.3 366.9 261.4 368.0 262.3 368.9C263.2 369.8 263.8 370.4 264.7 371.3C265.6 372.2 266.3 372.9 267.1 373.8C268.0 374.6 268.9 375.1 269.6 376.2C270.2 377.3 270.3 378.4 270.8 379.6C271.2 380.9 271.5 381.8 272.0 383.1C272.4 384.4 272.8 385.3 273.2 386.6C273.7 387.8 274.2 389.4 274.4 390.0 M124.6 257.3C125.1 258.3 126.2 260.7 127.2 262.7C128.1 264.8 129.0 266.8 129.7 268.5C130.5 270.1 131.0 271.2 131.3 271.8 M131.9 257.3 L133.7 259.7 M194.3 310.7C194.7 309.7 195.2 307.1 196.4 305.2C197.5 303.4 198.6 302.0 200.5 300.7C202.3 299.5 205.4 298.9 206.5 298.5 M196.8 302.2C197.4 302.2 199.1 302.2 200.4 302.2C201.7 302.2 203.4 302.2 204.0 302.2 M307.0 330.0C307.7 331.0 309.3 333.4 310.6 335.2C311.8 337.0 312.6 337.9 314.0 339.7C315.3 341.5 316.4 343.5 318.1 345.0C319.7 346.5 321.2 347.3 323.2 348.1C325.2 348.8 326.6 348.4 328.8 348.9C331.0 349.3 332.6 350.1 335.0 350.5C337.3 350.9 339.8 350.2 341.6 351.1C343.5 352.0 343.8 353.8 345.2 355.4C346.7 357.1 347.9 358.4 349.5 359.9C351.2 361.5 352.6 362.5 354.1 364.0C355.7 365.6 356.1 366.9 357.9 368.4C359.7 369.9 361.6 370.8 363.7 372.2C365.9 373.6 367.7 374.7 369.8 376.0C371.8 377.4 373.3 378.1 374.9 379.6C376.5 381.1 377.5 382.0 378.5 384.1C379.5 386.3 379.8 389.4 380.2 391.2C380.6 393.1 380.5 393.6 380.6 394.2 M379.7 466.9C378.8 467.5 376.7 469.2 374.7 470.4C372.7 471.5 371.0 472.1 368.9 473.2C366.9 474.4 365.3 475.5 363.3 476.6C361.3 477.8 359.7 478.0 357.9 479.3C356.2 480.6 355.3 482.1 353.8 483.7C352.3 485.3 351.2 486.3 349.6 487.9C348.0 489.5 346.4 490.4 345.1 492.3C343.7 494.1 343.3 495.9 342.3 498.1C341.3 500.4 340.3 502.3 339.4 504.3C338.4 506.4 338.1 507.4 337.1 509.4C336.0 511.4 335.0 513.2 333.9 515.2C332.8 517.3 332.1 518.5 331.1 520.7C330.2 522.9 330.2 525.5 328.7 527.2C327.3 529.0 325.2 529.1 323.2 530.2C321.2 531.3 319.5 531.9 317.8 533.3C316.0 534.7 315.0 536.0 313.7 537.7C312.4 539.4 312.0 540.7 310.7 542.7C309.4 544.7 307.6 546.6 306.6 548.6C305.6 550.6 305.9 551.8 305.3 553.9C304.8 555.9 304.4 557.4 303.6 559.7C302.8 562.0 302.1 564.2 301.0 566.3C300.0 568.5 299.2 569.6 297.9 571.5C296.7 573.5 294.9 575.9 294.2 576.8 M272.8 389.9C273.0 391.0 273.6 393.8 274.2 396.2C274.7 398.6 275.1 400.6 275.7 403.0C276.3 405.4 277.0 407.1 277.6 409.4C278.2 411.7 278.6 412.9 279.0 415.3C279.5 417.7 279.7 420.0 280.0 422.4C280.3 424.9 280.4 426.4 280.6 428.7C280.8 431.0 281.0 432.7 281.1 435.0C281.2 437.3 281.2 439.0 281.1 441.2C281.0 443.5 280.9 444.9 280.7 447.2C280.4 449.5 280.1 451.4 279.8 453.9C279.6 456.3 279.6 458.3 279.5 460.7C279.5 463.0 279.5 464.4 279.6 466.9C279.7 469.3 279.9 471.4 280.1 473.8C280.3 476.1 280.6 477.4 280.7 479.6C280.8 481.8 280.5 483.6 280.6 485.9C280.6 488.2 280.8 489.8 281.1 492.3C281.3 494.8 281.7 496.9 282.0 499.3C282.3 501.7 282.5 503.0 282.7 505.4C282.9 507.7 283.0 509.7 283.1 512.1C283.2 514.5 283.1 516.0 283.1 518.4C283.1 520.7 283.4 522.6 283.3 524.9C283.2 527.2 282.9 528.7 282.6 531.0C282.3 533.4 281.8 535.3 281.6 537.7C281.3 540.2 280.8 541.9 281.2 544.2C281.6 546.4 282.9 547.7 283.6 549.9C284.3 552.2 284.3 554.3 284.9 556.5C285.5 558.7 286.4 559.9 287.0 561.9C287.7 564.0 287.7 565.6 288.5 567.9C289.3 570.1 290.7 572.6 291.3 574.2C292.0 575.9 291.9 576.4 292.0 576.8 M281.3 415.6C282.1 416.4 283.6 418.5 285.3 420.1C286.9 421.7 288.7 422.7 290.3 424.3C291.9 425.8 292.3 427.2 294.0 428.4C295.7 429.6 297.3 429.7 299.5 430.8C301.7 431.9 303.8 433.0 306.0 434.2C308.2 435.4 309.9 435.7 311.3 437.3C312.7 439.0 312.7 441.3 313.7 443.4C314.6 445.5 315.6 446.8 316.5 448.9C317.3 451.1 318.0 452.8 318.4 455.1C318.8 457.4 318.9 459.3 318.5 461.6C318.2 464.0 316.5 465.8 316.4 467.9C316.3 470.0 316.7 471.6 318.1 473.0C319.5 474.4 321.8 474.4 324.0 475.4C326.2 476.5 328.1 478.4 329.9 478.7C331.7 478.9 332.6 478.5 333.7 476.9C334.8 475.3 335.2 471.5 335.9 470.1C336.6 468.8 337.0 468.6 337.5 469.7C338.0 470.8 338.2 473.8 338.5 476.2C338.8 478.7 338.8 480.8 339.2 483.2C339.5 485.6 340.0 487.6 340.4 489.3C340.8 491.0 341.1 492.0 341.2 492.6 M281.3 466.9C281.9 467.0 283.4 467.2 284.5 467.4C285.7 467.6 286.6 467.8 287.8 468.0C288.9 468.2 289.8 468.3 291.0 468.5C292.1 468.7 293.1 469.3 294.2 469.0C295.3 468.7 296.0 467.7 297.0 466.9C298.1 466.1 298.8 465.5 299.9 464.8C300.9 464.0 301.7 462.7 302.7 462.6C303.7 462.5 304.4 463.7 305.3 464.3C306.2 465.0 306.9 465.4 307.9 466.0C308.8 466.7 309.5 467.1 310.4 467.8C311.4 468.4 312.1 468.8 313.0 469.5C313.9 470.1 315.1 470.9 315.6 471.2 M298.4 471.2C298.3 472.3 298.1 475.0 297.8 477.2C297.5 479.4 296.9 480.9 296.6 483.2C296.2 485.4 296.3 487.2 295.9 489.4C295.6 491.6 295.0 493.1 294.7 495.2C294.3 497.3 294.1 498.7 293.9 500.9C293.7 503.1 293.8 504.8 293.6 507.1C293.3 509.4 292.8 511.2 292.5 513.3C292.2 515.5 292.3 516.9 292.0 519.0C291.7 521.2 291.2 522.8 290.8 525.1C290.5 527.3 289.9 529.0 289.9 531.2C289.9 533.4 290.4 534.9 290.7 537.1C291.0 539.3 291.2 541.2 291.6 543.4C291.9 545.7 292.2 547.3 292.6 549.4C293.0 551.5 293.4 552.6 293.7 554.8C294.0 557.0 293.8 559.2 294.2 561.4C294.7 563.7 295.6 564.8 296.2 567.0C296.7 569.3 296.8 571.8 297.3 573.6C297.7 575.4 298.2 576.3 298.4 576.8 M328.4 501.1C329.3 501.7 331.3 503.0 333.1 504.3C335.0 505.6 336.9 506.5 338.3 508.1C339.6 509.8 340.5 511.2 340.4 513.2C340.3 515.3 338.8 517.6 337.7 519.5C336.6 521.4 336.0 522.3 334.2 523.6C332.5 525.0 329.5 526.2 328.4 526.8 M242.8 330.0C243.6 331.0 245.5 333.4 246.8 335.3C248.1 337.2 248.7 338.5 249.9 340.2C251.2 341.9 252.1 343.1 253.7 344.7C255.4 346.2 257.1 347.6 259.0 348.8C260.8 350.1 261.9 350.4 263.9 351.3C265.9 352.3 267.8 353.4 269.9 354.1C272.1 354.8 273.3 355.0 275.6 354.9C277.8 354.8 279.8 353.8 282.1 353.4C284.4 353.0 286.0 353.0 288.1 352.6C290.2 352.2 292.0 352.4 293.7 351.2C295.5 350.0 296.3 347.9 297.5 346.1C298.7 344.2 299.0 343.0 300.2 341.1C301.4 339.2 302.8 337.8 304.1 335.8C305.3 333.7 306.5 331.1 307.0 330.0 M272.8 355.7C272.6 356.3 272.2 357.8 271.9 359.1C271.6 360.3 271.4 361.3 271.1 362.5C270.8 363.8 270.5 364.7 270.2 365.9C269.9 367.2 269.7 368.1 269.4 369.4C269.0 370.6 268.5 371.5 268.5 372.8C268.5 374.0 269.0 374.9 269.4 376.2C269.7 377.5 269.9 378.4 270.2 379.6C270.5 380.9 270.8 381.8 271.1 383.0C271.4 384.3 271.6 385.2 271.9 386.5C272.2 387.7 272.6 389.3 272.8 389.9 M294.2 351.4C294.6 352.5 295.4 355.0 296.3 357.3C297.1 359.6 297.7 361.6 298.6 363.9C299.6 366.1 300.0 367.4 301.3 369.4C302.6 371.4 303.6 373.2 305.5 374.6C307.4 375.9 309.5 375.8 311.6 376.8C313.6 377.9 314.9 378.9 316.7 380.3C318.4 381.7 319.9 382.8 321.1 384.6C322.3 386.4 322.2 387.9 323.1 390.1C324.1 392.3 325.2 394.2 326.1 396.5C327.0 398.9 328.4 401.2 328.0 403.1C327.7 405.1 325.8 405.7 324.2 407.3C322.7 408.8 321.1 410.0 319.5 411.6C317.8 413.2 316.9 414.6 315.2 415.9C313.5 417.2 312.1 417.4 310.2 418.6C308.3 419.8 306.9 421.2 304.9 422.4C302.9 423.5 301.3 423.7 299.3 424.9C297.3 426.0 295.1 427.7 294.2 428.4 M524.1 129.1C524.6 128.1 525.7 127.9 526.7 127.2C527.7 126.4 528.3 125.2 529.3 125.2C530.3 125.2 530.9 126.4 531.9 127.2C532.9 127.9 534.1 128.1 534.5 129.1C534.9 130.1 534.1 131.2 533.9 132.4C533.6 133.5 532.9 134.6 533.2 135.6C533.5 136.6 534.6 137.0 535.4 137.8C536.2 138.6 536.7 139.1 537.5 139.9C538.3 140.7 539.1 141.1 539.7 142.1C540.3 143.1 540.5 144.0 541.0 145.1C541.5 146.2 541.8 147.1 542.3 148.2C542.8 149.3 543.8 150.3 543.6 151.2C543.4 152.1 542.0 152.4 541.0 153.2C540.1 153.9 539.5 154.7 538.4 155.1C537.3 155.5 536.2 155.4 534.9 155.5C533.7 155.7 532.7 155.8 531.5 156.0C530.2 156.1 529.1 157.0 528.0 156.4C526.9 155.8 525.6 153.8 525.4 152.5C525.2 151.2 526.2 150.4 526.7 149.3C527.2 148.1 528.1 147.2 528.0 146.0C527.9 144.8 526.8 143.9 526.1 142.8C525.3 141.6 524.5 140.7 524.1 139.5C523.7 138.3 524.1 137.3 524.1 136.0C524.1 134.8 524.1 133.8 524.1 132.6C524.1 131.3 523.6 130.1 524.1 129.1 M508.5 144.7C509.1 143.5 510.6 143.1 511.8 142.1C512.9 141.1 513.8 139.9 515.0 139.5C516.2 139.1 517.1 139.9 518.3 140.2C519.4 140.4 520.9 140.0 521.5 140.8C522.1 141.6 521.5 143.3 521.5 144.7C521.5 146.1 522.1 147.4 521.5 148.6C520.9 149.8 519.4 150.2 518.3 151.2C517.1 152.2 516.2 153.4 515.0 153.8C513.8 154.2 512.9 153.4 511.8 153.2C510.6 152.9 509.1 153.3 508.5 152.5C507.9 151.7 508.5 150.0 508.5 148.6C508.5 147.2 507.9 145.9 508.5 144.7 M556.6 153.8C555.9 154.0 554.1 154.6 552.7 155.1C551.3 155.6 550.0 155.8 548.8 156.4C547.6 157.0 547.2 157.8 546.2 158.6C545.3 159.4 544.6 159.9 543.6 160.7C542.7 161.5 542.1 162.3 541.0 162.9C539.9 163.5 538.8 163.5 537.5 163.8C536.3 164.1 535.3 164.3 534.1 164.6C532.8 165.0 531.8 165.1 530.6 165.5C529.4 165.9 528.5 166.3 527.4 166.8C526.2 167.3 524.0 167.1 524.1 168.1C524.2 169.1 526.7 170.9 528.0 172.0C529.3 173.1 530.1 173.2 531.3 174.0C532.4 174.7 533.8 175.0 534.5 175.9C535.2 176.8 534.8 177.8 534.9 178.9C535.1 180.0 535.2 180.9 535.4 182.0C535.5 183.1 536.4 183.7 535.8 185.0C535.2 186.3 533.3 188.2 531.9 188.9C530.5 189.6 529.6 188.7 528.3 188.6C527.0 188.5 526.1 188.4 524.8 188.3C523.4 188.1 522.5 188.0 521.2 187.9C519.9 187.8 518.8 187.6 517.6 187.6C516.4 187.6 515.7 187.9 514.6 188.0C513.5 188.2 512.6 188.3 511.5 188.5C510.4 188.6 509.2 188.2 508.5 188.9C507.8 189.6 508.1 191.2 507.9 192.5C507.6 193.8 507.4 194.7 507.2 196.1C507.0 197.4 506.8 198.3 506.6 199.6C506.3 200.9 505.9 201.9 505.9 203.2C505.9 204.5 506.5 205.4 506.8 206.7C507.1 207.9 507.3 208.9 507.6 210.1C508.0 211.4 507.8 212.7 508.5 213.6C509.2 214.6 510.4 214.7 511.5 215.3C512.6 216.0 513.5 216.4 514.6 217.1C515.7 217.7 516.4 218.6 517.6 218.8C518.8 219.0 519.8 218.5 521.1 218.4C522.3 218.2 523.3 218.1 524.5 217.9C525.8 217.8 526.9 218.0 528.0 217.5C529.1 217.0 529.6 216.1 530.6 215.3C531.6 214.5 532.2 214.0 533.2 213.2C534.2 212.4 535.0 211.9 535.8 211.0C536.6 210.1 537.0 209.4 537.8 208.4C538.5 207.5 539.0 206.8 539.7 205.8C540.4 204.9 540.9 204.2 541.7 203.2C542.4 202.2 542.8 201.6 543.6 200.6C544.4 199.6 545.3 198.7 546.2 197.6C547.2 196.5 547.9 195.6 548.8 194.5C549.8 193.4 550.3 192.4 551.4 191.5C552.5 190.6 554.2 190.1 554.9 189.8 M513.7 191.5C513.6 192.2 513.5 193.8 513.4 195.1C513.3 196.4 513.2 197.3 513.1 198.7C512.9 200.0 512.8 200.9 512.7 202.2C512.6 203.5 512.3 204.5 512.4 205.8C512.5 207.1 513.0 208.0 513.3 209.3C513.6 210.5 513.8 211.5 514.1 212.7C514.5 214.0 514.8 215.6 515.0 216.2 M535.8 188.1C537.0 188.4 539.9 189.0 542.3 189.6C544.7 190.2 547.6 191.1 548.8 191.5 M548.8 156.4C549.3 157.0 550.5 158.5 551.4 159.7C552.4 160.8 553.5 162.3 554.0 162.9 M517.6 220.1C517.1 220.7 516.0 222.2 515.0 223.4C514.0 224.5 513.4 225.5 512.4 226.6C511.4 227.7 510.8 228.3 509.8 229.2C508.8 230.2 508.2 230.9 507.2 231.8C506.2 232.8 505.4 233.3 504.6 234.4C503.8 235.5 503.5 236.6 502.9 237.9C502.2 239.1 501.8 240.1 501.1 241.3C500.5 242.6 500.0 243.7 499.4 244.8C498.8 245.9 498.3 246.5 497.7 247.4C497.0 248.4 496.6 249.1 495.9 250.0C495.3 251.0 494.8 251.7 494.2 252.6C493.6 253.6 493.1 254.3 492.5 255.2C491.8 256.2 491.4 256.9 490.7 257.8C490.1 258.8 489.6 259.3 489.0 260.4C488.4 261.5 487.6 263.0 487.3 263.6 M517.6 220.1C518.8 219.9 521.8 219.3 524.2 218.9C526.6 218.5 528.4 218.3 530.8 217.9C533.3 217.5 535.1 217.1 537.6 216.7C540.1 216.3 542.1 216.0 544.5 215.7C546.9 215.4 548.4 215.1 550.8 214.9C553.1 214.7 556.1 214.6 557.3 214.6 M530.6 224.0C530.7 224.7 531.0 226.5 531.3 227.9C531.5 229.3 532.3 230.7 531.9 231.8C531.5 232.9 530.1 233.0 529.0 233.8C527.9 234.5 527.1 235.0 526.1 235.7C525.0 236.4 524.2 236.9 523.1 237.7C522.1 238.4 521.1 238.8 520.2 239.6C519.3 240.4 519.1 241.3 518.5 242.2C517.8 243.2 517.4 243.9 516.7 244.8C516.1 245.8 515.9 246.7 515.0 247.4C514.1 248.1 512.9 248.2 511.8 248.7C510.6 249.2 509.7 249.5 508.5 250.0C507.3 250.5 506.4 250.8 505.3 251.3C504.1 251.8 503.1 252.1 502.0 252.6C500.9 253.1 500.4 253.6 499.4 254.2C498.4 254.7 497.8 255.2 496.8 255.7C495.8 256.3 495.2 256.7 494.2 257.3C493.2 257.9 492.6 258.3 491.6 258.8C490.6 259.4 489.5 260.1 489.0 260.4 M528.0 218.8 L530.6 224.0 M512.4 247.4C513.3 246.6 515.6 244.5 517.5 242.9C519.3 241.4 520.6 240.3 522.6 238.9C524.5 237.5 526.3 236.7 528.2 235.3C530.1 233.9 530.9 232.7 532.9 231.2C534.9 229.7 537.0 228.4 539.2 227.1C541.5 225.8 543.0 225.1 545.2 223.9C547.3 222.8 549.4 221.8 551.0 220.8C552.6 219.9 553.4 219.2 554.0 218.8 M504.6 255.2C505.5 256.0 507.8 257.9 509.7 259.4C511.6 261.0 514.0 262.9 515.0 263.7 M479.9 265.2C479.5 265.7 478.7 266.8 477.9 267.8C477.2 268.8 476.5 269.3 476.0 270.4C475.5 271.5 475.6 272.5 475.3 273.6C475.1 274.8 474.9 275.7 474.7 276.9C474.5 278.1 474.3 279.0 474.0 280.1C473.8 281.3 473.5 282.2 473.4 283.4C473.3 284.6 473.6 285.4 473.7 286.5C473.8 287.7 473.8 288.5 473.9 289.6C474.0 290.8 474.1 291.6 474.2 292.8C474.3 293.9 474.3 294.7 474.4 295.9C474.5 297.0 474.5 297.8 474.7 299.0C474.9 300.1 475.2 301.0 475.5 302.1C475.8 303.3 476.0 304.1 476.3 305.2C476.5 306.4 476.7 307.2 477.0 308.3C477.3 309.5 477.5 310.3 477.8 311.5C478.1 312.6 478.2 313.4 478.6 314.6C479.0 315.8 479.4 316.6 479.9 317.8C480.4 319.0 480.7 319.9 481.2 321.1C481.7 322.3 482.0 323.1 482.5 324.3C483.0 325.5 483.2 326.5 483.8 327.6C484.4 328.7 485.0 329.2 485.7 330.2C486.5 331.1 487.0 331.8 487.7 332.8C488.4 333.7 488.9 334.4 489.6 335.4C490.4 336.3 490.8 337.0 491.6 338.0C492.4 338.9 493.2 339.6 494.2 340.6C495.1 341.5 495.8 342.2 496.8 343.2C497.7 344.1 498.4 344.9 499.4 345.8C500.3 346.7 501.0 347.2 502.0 347.9C502.9 348.7 503.6 349.3 504.6 350.1C505.5 350.9 506.1 352.0 507.2 352.3C508.3 352.5 509.4 351.7 510.7 351.4C511.9 351.1 512.8 350.9 514.1 350.5C515.4 350.2 516.3 349.8 517.6 349.7C518.9 349.6 519.8 350.0 521.1 350.1C522.3 350.3 523.2 350.4 524.5 350.5C525.8 350.7 526.7 351.1 528.0 351.0C529.3 350.8 530.2 350.2 531.4 349.7C532.7 349.2 533.6 348.9 534.9 348.4C536.2 347.9 537.0 347.7 538.4 347.1C539.7 346.5 540.9 345.8 542.3 345.1C543.7 344.4 545.0 343.1 546.2 343.2C547.4 343.3 547.8 344.8 548.8 345.8C549.7 346.7 550.4 347.4 551.4 348.4C552.3 349.3 552.9 350.3 554.0 351.0C555.1 351.6 556.2 351.5 557.4 351.8C558.7 352.2 559.6 352.4 560.9 352.7C562.2 353.0 563.7 353.4 564.4 353.6 M473.4 280.8C474.6 280.8 477.7 280.8 480.1 280.6C482.4 280.4 484.7 281.1 486.3 279.8C487.8 278.5 487.2 275.3 488.3 273.6C489.4 271.8 490.4 270.8 492.2 270.1C494.1 269.3 496.2 269.6 498.6 269.5C501.0 269.4 502.8 269.8 505.3 269.7C507.8 269.6 510.7 269.5 512.2 268.8C513.6 268.1 513.1 266.6 513.3 266.1 M513.7 269.1C513.7 270.3 513.5 273.4 513.7 275.7C513.9 278.1 514.6 279.7 514.8 281.9C514.9 284.1 514.6 285.5 514.6 287.8C514.6 290.1 514.7 291.9 514.5 294.3C514.4 296.6 514.1 298.1 513.9 300.5C513.7 302.9 514.6 306.0 513.5 307.2C512.4 308.4 510.1 307.1 507.8 307.2C505.5 307.3 503.3 307.8 500.8 308.0C498.4 308.1 496.9 308.0 494.6 307.8C492.3 307.5 490.4 307.2 488.3 306.5C486.2 305.7 485.2 304.6 483.1 303.5C481.1 302.5 478.8 301.3 477.2 300.5C475.7 299.7 475.2 299.3 474.7 299.0 M491.6 308.1C491.7 308.8 492.1 310.6 492.5 312.0C492.8 313.4 493.0 314.5 493.3 315.9C493.6 317.3 494.5 318.7 494.2 319.8C493.9 320.9 492.5 321.0 491.6 321.7C490.6 322.5 489.9 323.0 489.0 323.7C488.0 324.4 487.3 324.9 486.4 325.6C485.4 326.4 484.3 327.2 483.8 327.6 M494.2 319.8C494.8 319.7 496.4 319.5 497.7 319.4C498.9 319.2 499.9 319.1 501.1 318.9C502.4 318.8 503.9 317.9 504.6 318.5C505.3 319.1 504.9 321.0 505.0 322.4C505.2 323.8 505.3 324.9 505.5 326.3C505.6 327.7 506.0 328.9 505.9 330.2C505.7 331.5 505.1 332.2 504.6 333.3C504.1 334.4 503.8 335.3 503.3 336.4C502.8 337.6 502.5 338.4 502.0 339.5C501.5 340.7 501.2 341.5 500.7 342.7C500.2 343.8 499.6 345.2 499.4 345.8 M505.9 330.2C506.4 330.0 507.8 329.6 508.9 329.3C510.0 329.0 510.8 328.8 512.0 328.5C513.1 328.1 514.1 328.2 515.0 327.6C515.9 326.9 516.1 325.9 516.7 325.0C517.4 324.0 517.8 323.3 518.5 322.4C519.1 321.4 519.4 320.7 520.2 319.8C521.0 318.8 521.8 318.1 522.8 317.2C523.7 316.2 524.4 315.5 525.4 314.6C526.3 313.6 527.0 312.8 528.0 312.0C528.9 311.2 529.6 310.9 530.6 310.3C531.5 309.6 532.2 309.2 533.2 308.5C534.1 307.9 535.3 307.7 535.8 306.8C536.3 305.8 535.9 304.6 536.0 303.3C536.1 302.1 536.1 301.1 536.2 299.9C536.3 298.6 536.4 297.7 536.4 296.4C536.5 295.1 536.6 294.2 536.6 292.9C536.7 291.7 536.8 290.7 536.9 289.5C536.9 288.2 536.5 286.4 537.1 286.0C537.7 285.6 538.9 286.8 540.0 287.3C541.1 287.8 541.9 288.1 542.9 288.6C544.0 289.1 544.8 289.4 545.9 289.9C546.9 290.4 548.1 290.4 548.8 291.2C549.4 292.0 549.2 293.3 549.4 294.4C549.7 295.6 549.8 296.5 550.1 297.7C550.3 298.9 550.5 299.7 550.7 300.9C551.0 302.1 551.4 303.0 551.4 304.2C551.3 305.4 550.8 306.4 550.5 307.7C550.2 308.9 550.0 309.9 549.6 311.1C549.3 312.4 548.3 314.0 548.8 314.6C549.3 315.1 551.0 314.3 552.2 314.2C553.5 314.0 554.4 313.9 555.7 313.7C557.0 313.6 557.9 313.3 559.2 313.3C560.4 313.3 562.0 313.6 562.6 313.7 M515.0 327.6C515.0 328.7 515.1 331.4 515.3 333.7C515.5 336.0 515.8 337.8 516.1 340.1C516.4 342.4 516.5 344.3 516.8 346.1C517.1 347.8 517.4 349.0 517.6 349.7 M525.4 325.0C525.5 326.1 525.6 328.9 525.9 331.2C526.1 333.6 526.4 335.6 526.8 338.0C527.1 340.5 527.3 342.2 527.6 344.6C527.8 347.0 527.9 349.8 528.0 351.0 M525.4 325.0C526.0 324.9 527.6 324.7 528.8 324.6C530.1 324.4 531.0 324.3 532.3 324.1C533.6 324.0 534.4 324.5 535.8 323.7C537.1 322.9 539.0 319.9 539.7 319.8C540.4 319.6 539.6 321.7 539.5 322.8C539.5 323.9 539.4 324.7 539.4 325.9C539.3 327.0 539.3 327.8 539.2 328.9C539.2 330.0 539.2 330.8 539.1 331.9C539.0 333.0 539.0 333.8 539.0 335.0C538.9 336.1 538.9 336.9 538.8 338.0C538.8 339.1 538.7 339.9 538.7 341.0C538.6 342.1 538.6 342.9 538.5 344.0C538.5 345.2 538.4 346.5 538.4 347.1 M544.9 319.8C545.0 321.1 545.3 324.4 545.4 326.8C545.6 329.2 545.3 330.7 545.5 333.0C545.7 335.3 546.3 337.7 546.4 339.5C546.5 341.4 546.2 342.5 546.2 343.2 M548.8 314.6 L544.9 319.8 M551.4 291.2C552.4 290.6 554.9 289.3 556.8 288.2C558.6 287.1 560.0 286.1 561.4 285.3C562.8 284.4 563.8 283.7 564.4 283.4 M336.4 115.0C336.7 115.6 337.5 117.2 338.2 118.5C338.8 119.7 339.3 120.7 339.9 121.9C340.5 123.2 340.8 124.3 341.6 125.4C342.4 126.5 343.3 127.1 344.2 128.0C345.2 129.0 345.9 129.7 346.8 130.6C347.8 131.6 348.5 132.3 349.4 133.2C350.4 134.2 351.2 134.9 352.0 135.8C352.9 136.8 353.3 137.5 354.0 138.4C354.7 139.4 355.2 140.1 355.9 141.0C356.6 142.0 357.2 142.7 357.9 143.6C358.6 144.6 359.8 145.3 359.8 146.2C359.9 147.2 358.7 147.9 358.1 148.8C357.5 149.8 357.0 150.5 356.4 151.4C355.7 152.4 355.4 153.2 354.6 154.0C353.8 154.8 353.0 155.1 352.0 155.8C351.1 156.4 350.4 156.9 349.4 157.5C348.5 158.1 347.9 158.7 346.8 159.2C345.7 159.8 344.6 160.0 343.4 160.5C342.1 161.0 341.2 161.3 339.9 161.8C338.6 162.3 337.7 162.7 336.4 163.1C335.1 163.6 334.2 164.0 333.0 164.4C331.7 164.9 330.8 165.3 329.5 165.7C328.2 166.2 327.3 166.6 326.0 167.0C324.7 167.4 323.8 167.6 322.5 167.9C321.3 168.2 320.3 168.4 319.1 168.8C317.8 169.1 316.9 169.4 315.6 169.6C314.3 169.9 313.4 169.9 312.1 170.1C310.9 170.2 309.9 170.3 308.7 170.5C307.4 170.7 306.3 170.5 305.2 170.9C304.1 171.4 303.6 172.2 302.6 172.9C301.6 173.6 300.5 174.5 300.0 174.8 M398.9 115.0C399.6 115.4 401.3 116.2 402.8 117.0C404.2 117.7 405.2 118.9 406.7 118.9C408.1 118.9 409.1 117.7 410.6 117.0C412.0 116.2 413.7 115.4 414.5 115.0 M365.0 154.0C365.6 153.3 367.0 153.5 368.1 153.2C369.2 152.8 370.0 152.6 371.1 152.3C372.2 152.0 373.2 151.0 374.1 151.4C375.1 151.9 375.4 153.5 376.1 154.7C376.8 155.9 378.3 156.9 378.0 157.9C377.8 159.0 376.0 159.6 374.8 160.5C373.6 161.5 372.7 162.9 371.5 163.1C370.3 163.4 369.5 162.3 368.3 161.8C367.1 161.3 365.6 161.4 365.0 160.5C364.4 159.7 365.0 158.5 365.0 157.3C365.0 156.1 364.5 154.8 365.0 154.0 M1099.6 396.0C1100.2 395.5 1101.7 394.4 1102.9 393.4C1104.1 392.5 1105.1 390.8 1106.1 390.8C1107.2 390.8 1108.8 392.3 1108.8 393.4C1108.8 394.5 1107.1 395.5 1106.1 396.7C1105.2 397.9 1104.0 399.3 1103.5 399.9 M1098.3 412.4C1099.0 412.0 1101.6 409.8 1102.2 410.4C1102.8 411.0 1101.7 414.7 1101.6 415.6 M754.0 186.2C754.9 186.6 757.7 187.4 759.2 188.1C760.6 188.7 760.8 189.1 761.8 189.8C762.7 190.4 763.4 190.9 764.4 191.5C765.3 192.2 766.1 192.5 766.9 193.2C767.8 194.0 768.2 194.9 768.9 195.8C769.6 196.8 770.5 198.0 770.8 198.4 M754.0 200.3C754.4 200.6 755.6 201.7 756.6 202.3C757.5 203.0 758.2 203.4 759.2 204.0C760.1 204.6 760.8 205.0 761.8 205.6C762.7 206.2 763.4 206.6 764.4 207.2C765.3 207.8 765.8 208.1 766.9 208.8C768.1 209.6 770.1 211.0 770.8 211.4 M754.0 217.9C754.1 218.6 754.5 220.1 754.8 221.4C755.1 222.7 755.4 223.6 755.7 224.8C756.0 226.1 756.3 227.0 756.6 228.3C756.8 229.6 756.8 230.5 757.0 231.8C757.2 233.0 757.3 234.0 757.4 235.2C757.6 236.5 757.5 237.4 757.9 238.7C758.2 240.0 758.7 240.9 759.2 242.2C759.6 243.4 760.0 244.4 760.5 245.6C760.9 246.9 761.4 247.8 761.8 249.1C762.2 250.4 762.3 251.3 762.6 252.6C762.9 253.8 763.2 254.7 763.5 256.0C763.8 257.3 764.4 257.9 764.4 259.5C764.3 261.1 762.6 263.6 763.1 264.7C763.5 265.7 765.5 265.1 766.9 265.3C768.4 265.6 770.1 265.9 770.8 266.0 M756.6 220.5C757.2 220.4 758.8 220.0 760.0 219.7C761.3 219.3 762.2 219.1 763.5 218.8C764.8 218.5 766.0 218.6 766.9 217.9C767.9 217.3 768.2 216.3 768.9 215.3C769.6 214.4 770.5 213.2 770.8 212.7 M757.9 243.9C759.1 244.2 762.3 244.8 764.7 245.3C767.1 245.8 769.7 246.3 770.8 246.5 M754.0 140.0C754.5 140.1 755.9 140.4 757.0 140.7C758.1 140.9 758.9 141.1 760.0 141.4C761.1 141.6 761.8 142.1 763.1 142.1C764.3 142.0 765.5 141.4 766.9 141.0C768.4 140.7 770.1 140.2 770.8 140.0 M582.3 134.9C583.3 135.2 585.9 137.1 587.7 136.5C589.6 135.9 591.6 132.7 592.4 131.8 M597.9 131.8C598.4 132.4 599.4 133.7 600.4 134.7C601.4 135.7 602.0 137.5 603.3 137.3C604.7 137.0 607.2 134.1 608.0 133.4 M570.6 131.1C571.2 130.9 573.0 129.6 573.7 130.3C574.4 131.0 574.8 133.2 574.5 134.9C574.2 136.7 571.4 138.2 572.2 139.6C572.9 141.1 576.1 142.2 578.4 142.7C580.7 143.3 583.2 142.3 584.6 142.7C586.1 143.2 585.9 144.7 586.2 145.1 M586.2 145.1C585.2 146.6 586.6 148.4 587.1 150.2C587.5 152.1 588.9 154.0 588.5 155.2C588.1 156.5 586.2 156.5 584.8 157.1C583.3 157.7 581.3 157.3 580.7 158.3C580.1 159.4 580.2 161.9 581.5 163.0C582.8 164.2 585.9 164.4 587.7 164.6C589.6 164.8 590.2 164.4 591.6 164.2C593.1 164.1 593.8 164.2 595.5 163.8C597.3 163.4 599.4 162.5 601.0 162.2C602.6 162.0 603.2 162.5 604.5 162.6C605.8 162.8 606.2 162.8 608.0 163.0C609.8 163.2 612.8 164.3 614.3 163.8C615.7 163.3 615.5 161.7 616.1 160.4C616.7 159.1 617.2 158.3 617.4 156.8C617.6 155.2 617.4 153.8 617.3 152.1C617.1 150.4 617.1 149.3 616.6 147.4C616.0 145.6 615.8 143.4 614.3 142.0C612.7 140.5 610.3 139.9 608.0 139.6C605.7 139.3 603.8 140.2 601.8 140.4C599.8 140.6 598.8 140.6 597.0 140.9C595.3 141.2 594.4 141.2 592.4 142.0C590.4 142.7 587.2 143.6 586.2 145.1 M629.8 131.8C629.3 132.7 628.0 135.5 626.7 136.5C625.4 137.6 624.2 137.2 622.8 137.6C621.4 138.0 620.5 138.0 618.9 138.8C617.4 139.6 615.1 141.4 614.3 142.0 M608.8 133.4C609.6 133.2 611.6 133.0 613.2 132.6C614.8 132.2 615.6 131.2 617.4 131.1C619.1 130.9 620.8 131.5 622.8 131.6C624.8 131.8 627.3 131.8 628.3 131.8 M608.0 139.6C608.2 140.3 609.4 142.8 608.8 143.5C608.2 144.2 605.9 144.1 604.9 143.5C603.9 143.0 603.6 141.0 603.3 140.4 M617.4 143.5C618.0 143.2 619.5 142.5 620.6 141.7C621.7 141.0 621.9 140.6 623.6 139.6C625.3 138.7 628.0 137.0 629.8 136.5C631.7 136.0 632.4 136.7 633.8 137.0C635.2 137.3 636.4 137.4 637.6 138.1C638.8 138.8 639.5 139.8 640.4 140.9C641.2 142.0 641.5 143.1 642.3 144.3C643.1 145.5 644.7 146.0 644.7 147.4C644.7 148.9 643.9 150.7 642.3 152.1C640.8 153.5 638.0 154.7 636.1 155.2C634.2 155.7 633.5 155.1 632.1 154.8C630.7 154.5 629.7 154.0 628.3 153.7C626.9 153.3 625.8 153.3 624.4 153.0C622.9 152.7 621.8 151.4 620.5 152.1C619.2 152.8 617.9 155.9 617.4 156.8 M642.3 152.1C643.0 152.0 644.8 151.5 646.2 151.3C647.6 151.2 648.9 150.8 650.1 151.3C651.4 151.9 651.9 153.3 653.0 154.3C654.2 155.3 655.0 156.0 656.4 156.8C657.7 157.5 658.8 157.8 660.2 158.4C661.7 159.0 662.8 159.5 664.2 159.9C665.5 160.3 666.3 160.5 667.6 160.8C668.9 161.1 670.4 160.2 671.2 161.5C672.0 162.7 672.7 165.8 671.9 167.7C671.2 169.6 668.2 170.2 667.3 171.6C666.3 172.9 666.9 173.8 666.8 175.1C666.6 176.4 667.3 177.9 666.5 178.6C665.7 179.4 663.7 178.9 662.2 179.2C660.6 179.5 659.0 180.6 657.9 180.2C656.8 179.8 655.5 178.2 656.4 177.1C657.2 175.9 660.7 173.6 662.6 173.9C664.5 174.2 665.8 177.8 666.5 178.6 M614.3 163.8C614.5 164.5 614.5 167.0 615.8 167.7C617.1 168.4 619.3 167.7 621.3 167.7C623.3 167.7 624.9 167.6 626.7 167.7C628.6 167.8 629.7 167.8 631.4 168.5C633.1 169.2 634.9 170.3 636.1 171.6C637.2 172.9 637.6 174.2 637.6 175.5C637.6 176.8 635.7 178.3 636.1 178.6C636.5 178.9 638.3 177.6 640.0 177.1C641.7 176.5 643.3 175.2 645.4 175.5C647.6 175.8 650.2 177.5 651.7 178.6C653.1 179.8 652.1 181.4 653.2 181.7C654.4 182.0 657.1 180.5 657.9 180.2 M580.7 158.3C581.7 158.1 584.3 157.0 586.2 156.8C588.1 156.5 589.2 156.8 590.9 157.1C592.7 157.4 593.7 157.4 595.5 158.3C597.4 159.3 600.0 161.5 601.0 162.2 M581.5 163.0C582.4 163.6 584.6 165.5 586.2 166.1C587.8 166.8 588.7 166.4 590.1 166.4C591.5 166.4 593.0 166.6 594.0 166.1C595.0 165.7 595.3 164.2 595.5 163.8 M594.0 166.1C593.7 167.3 593.9 170.7 592.4 172.4C591.0 174.1 588.5 175.5 586.2 175.5C583.9 175.5 582.0 172.9 579.9 172.4C577.9 171.8 577.1 172.1 575.3 172.4C573.4 172.6 571.7 173.1 569.7 173.7C567.7 174.3 566.2 175.4 564.4 175.5C562.5 175.5 560.5 174.2 559.7 173.9 M592.4 172.4C593.0 172.9 594.1 174.8 595.5 175.5C597.0 176.2 598.5 176.0 600.2 176.3C601.9 176.6 603.2 177.2 604.9 177.1C606.6 176.9 608.1 176.9 609.6 175.5C611.0 174.1 611.8 171.4 612.7 169.3C613.6 167.1 614.0 164.8 614.3 163.8 M595.5 163.8C596.7 164.2 599.5 166.0 601.8 166.1C604.1 166.3 606.0 164.0 608.0 164.6C610.0 165.1 611.8 168.4 612.7 169.3 M612.7 169.3C613.4 169.2 615.2 169.0 616.6 168.9C618.0 168.8 619.1 168.6 620.5 168.5C621.9 168.4 623.0 168.4 624.4 168.2C625.8 168.1 627.0 167.5 628.3 167.7C629.6 167.9 630.5 168.6 631.6 169.3C632.8 170.0 633.4 170.5 634.5 171.6C635.6 172.7 637.1 174.8 637.6 175.5 M636.1 178.6C635.8 179.8 635.5 183.6 634.5 184.8C633.5 186.1 632.0 185.1 630.6 185.4C629.2 185.7 628.2 186.2 626.7 186.4C625.3 186.6 624.3 186.7 622.8 186.7C621.4 186.7 620.5 187.0 618.9 186.4C617.4 185.8 615.6 184.4 614.3 183.3C612.9 182.2 612.4 181.6 611.6 180.4C610.7 179.3 609.9 178.0 609.6 177.1C609.2 176.1 609.6 175.8 609.6 175.5 M586.2 175.5C587.0 176.1 589.4 177.2 590.9 178.6C592.3 180.0 592.3 182.7 594.0 183.3C595.7 183.9 598.2 182.9 600.2 181.7C602.2 180.6 604.0 177.9 604.9 177.1 M594.0 183.3C594.3 184.1 594.1 186.8 595.5 188.0C597.0 189.1 599.8 189.0 601.8 189.5C603.8 190.1 605.0 189.9 606.5 191.1C607.9 192.2 609.3 194.1 609.6 195.8C609.9 197.4 608.3 199.2 608.0 200.0 M604.9 177.1C605.2 178.2 605.0 181.6 606.5 183.3C607.9 185.0 611.0 185.0 612.7 186.4C614.4 187.8 615.5 189.7 615.8 191.1C616.1 192.5 615.4 193.3 614.3 194.2C613.1 195.1 610.4 195.5 609.6 195.8 M615.8 191.1C616.7 190.8 618.5 190.4 620.5 189.5C622.5 188.7 625.6 187.0 626.7 186.4 M615.8 191.1C616.1 192.2 615.9 195.7 617.4 197.3C618.8 199.0 622.5 199.5 623.6 200.0 M634.5 184.8C634.7 186.0 635.6 189.1 635.3 191.1C635.0 193.1 632.8 194.1 633.0 195.8C633.1 197.4 635.5 199.2 636.1 200.0 M579.9 172.4C580.1 173.1 580.7 174.8 581.0 176.2C581.2 177.7 580.9 178.8 581.5 180.2C582.2 181.5 583.3 182.3 584.5 183.5C585.6 184.6 586.4 185.2 587.7 186.4C589.1 187.6 590.4 188.7 591.9 190.1C593.3 191.5 594.3 192.9 595.5 194.2C596.8 195.5 597.4 196.2 598.5 197.3C599.6 198.3 601.2 199.5 601.8 200.0 M564.4 175.5C564.7 176.3 565.4 178.2 566.3 179.6C567.1 181.1 568.0 182.2 569.0 183.3C570.1 184.4 571.0 184.8 572.2 185.6C573.3 186.5 574.1 187.0 575.3 188.0C576.4 189.0 577.3 189.9 578.5 191.0C579.6 192.1 580.5 193.1 581.5 194.2C582.5 195.3 583.0 196.0 583.9 197.1C584.7 198.1 585.8 199.4 586.2 200.0 M666.5 178.6C667.1 179.1 668.6 180.2 669.9 181.1C671.2 182.0 672.0 182.3 673.5 183.3C675.0 184.3 676.3 185.5 678.0 186.6C679.8 187.8 680.8 188.7 682.9 189.5C684.9 190.4 686.8 190.6 689.1 191.2C691.4 191.8 693.3 191.9 695.3 192.6C697.4 193.4 698.3 194.3 700.1 195.1C701.9 196.0 704.1 196.9 705.0 197.3 M636.1 178.6C636.7 179.5 637.8 182.4 639.2 183.3C640.6 184.2 642.2 183.4 644.0 183.7C645.7 183.9 646.8 184.7 648.6 184.8C650.4 185.0 651.8 184.4 653.7 184.2C655.6 184.1 657.0 184.1 658.9 184.1C660.9 184.1 662.1 183.7 664.2 184.1C666.2 184.5 668.0 185.5 670.3 186.2C672.6 187.0 674.9 186.8 676.6 188.0C678.4 189.1 679.7 191.1 679.7 192.6C679.7 194.2 677.2 195.8 676.6 196.5 M705.0 154.4C703.8 154.9 700.5 155.8 698.5 156.8C696.4 157.8 694.4 158.2 693.8 159.9C693.2 161.6 694.6 164.4 695.3 166.1C696.1 167.8 697.0 168.0 697.8 169.1C698.7 170.3 698.7 171.2 700.0 172.4C701.3 173.5 704.1 174.9 705.0 175.5 M559.7 173.9C559.8 173.1 560.2 171.0 560.5 169.3C560.8 167.6 561.5 166.1 561.2 164.6C561.0 163.0 559.8 162.3 559.2 160.9C558.7 159.4 558.9 157.8 558.1 156.8C557.3 155.7 555.6 155.5 555.0 155.2 M570.6 139.6C570.2 140.2 569.5 141.9 568.6 143.0C567.7 144.2 567.3 144.5 565.9 145.9C564.6 147.2 563.2 149.1 561.2 150.5C559.2 152.0 556.1 153.1 555.0 153.7 M572.2 139.6C571.9 140.8 571.5 143.9 570.6 145.9C569.7 147.9 567.8 148.5 567.5 150.5C567.2 152.5 569.3 154.5 569.0 156.8C568.7 159.1 566.8 160.7 565.9 163.0C565.1 165.3 564.6 167.0 564.4 169.3C564.1 171.5 564.4 174.3 564.4 175.5 M558.1 156.8C559.0 156.5 561.1 156.4 562.8 155.2C564.5 154.1 566.6 151.4 567.5 150.5 M557.1 115.8C557.7 115.0 559.0 112.8 560.2 111.6C561.4 110.4 562.4 110.1 563.7 109.3C565.1 108.6 566.0 108.1 567.5 107.4C568.9 106.7 570.2 106.3 571.7 105.5C573.2 104.7 574.5 104.1 575.8 103.3C577.0 102.4 577.6 101.8 578.5 100.8C579.5 99.9 580.0 99.2 581.0 98.1C582.0 96.9 582.8 95.9 583.7 94.5C584.7 93.2 585.2 92.0 586.2 90.8C587.2 89.6 588.0 89.0 589.2 88.0C590.3 87.1 590.9 86.8 592.4 85.6C594.0 84.4 596.1 81.9 597.6 81.4C599.2 81.0 599.4 83.0 600.8 83.0C602.1 83.0 603.4 82.0 604.9 81.5C606.4 80.9 607.5 80.2 609.1 79.9C610.6 79.5 611.7 79.7 613.2 79.6C614.8 79.5 615.7 79.4 617.4 79.4C619.1 79.4 620.7 79.5 622.6 79.6C624.5 79.7 626.5 79.3 627.8 79.9C629.1 80.4 628.7 81.9 629.9 82.5C631.0 83.0 632.6 82.6 634.1 82.9C635.6 83.2 636.7 83.5 638.2 84.0C639.7 84.6 640.7 85.4 642.2 86.0C643.7 86.5 644.9 86.8 646.5 87.2C648.1 87.6 649.2 87.7 650.8 88.2C652.3 88.6 653.3 89.0 654.8 89.8C656.3 90.5 658.4 91.2 659.0 92.4C659.6 93.5 659.1 95.0 657.9 96.0C656.8 96.9 654.8 97.4 652.7 97.6C650.6 97.7 648.6 97.3 646.5 97.0C644.4 96.7 643.4 96.5 641.3 96.0C639.2 95.5 635.1 94.3 635.1 94.4C635.1 94.5 639.6 95.3 641.3 96.5C643.0 97.8 643.1 99.7 644.4 101.2C645.8 102.7 647.1 104.0 648.6 104.8C650.1 105.7 652.6 106.5 652.7 105.9C652.9 105.2 649.4 102.2 649.6 101.2C649.8 100.1 652.1 100.2 653.8 100.2C655.5 100.2 657.3 101.8 659.0 101.2C660.7 100.6 661.6 98.2 663.1 97.0C664.7 95.9 666.7 96.5 667.3 95.0C667.9 93.4 665.7 90.1 666.3 88.7C666.8 87.4 669.1 87.5 670.4 87.7C671.8 87.9 673.2 88.8 673.5 89.8C673.9 90.7 672.2 92.0 672.5 92.9C672.8 93.7 673.7 94.5 675.0 94.4C676.3 94.4 678.0 93.4 679.7 92.5C681.3 91.7 683.2 90.3 683.9 89.8 M578.9 130.0C579.2 129.1 580.0 126.9 580.4 125.0C580.8 123.2 581.1 122.0 581.0 119.9C580.9 117.8 580.0 115.8 580.0 113.7C580.0 111.6 580.0 110.4 581.0 108.5C581.9 106.6 583.8 105.2 585.2 103.3C586.5 101.4 587.3 99.7 588.3 98.1C589.3 96.5 589.6 95.8 590.5 94.6C591.5 93.5 592.0 93.0 593.5 91.8C595.0 90.7 596.8 89.2 598.7 88.2C600.6 87.2 602.2 86.5 603.9 86.6C605.6 86.7 606.3 88.6 608.0 88.7C609.7 88.8 611.5 88.1 613.2 87.2C614.9 86.2 615.7 84.4 617.4 83.5C619.1 82.7 620.7 82.5 622.6 82.5C624.5 82.5 626.5 83.5 627.8 83.5C629.1 83.5 629.5 82.7 629.9 82.5 M557.1 115.8C557.3 116.9 557.2 119.9 558.1 122.0C559.1 124.1 560.6 126.0 562.3 127.2C564.0 128.3 565.6 128.8 567.5 128.2C569.4 127.7 571.0 124.6 572.7 124.1C574.4 123.5 575.7 124.0 576.8 125.1C578.0 126.2 578.5 129.1 578.9 130.0 M608.0 88.7C608.7 89.5 610.9 91.3 611.7 92.9C612.4 94.5 612.9 96.3 612.2 97.6C611.5 98.8 609.4 98.6 608.0 99.6C606.7 100.7 606.4 102.0 604.9 103.3C603.4 104.5 601.4 105.1 599.7 106.4C598.0 107.7 596.6 108.8 595.6 110.6C594.5 112.3 594.1 113.7 594.0 115.8C593.9 117.8 595.0 120.1 595.0 122.0C595.1 123.9 594.6 124.5 594.3 126.0C594.0 127.5 593.6 129.3 593.5 130.0 M612.2 97.6C612.8 98.0 615.1 99.1 615.3 100.2C615.5 101.2 614.4 102.2 613.2 103.3C612.1 104.3 610.4 105.1 609.1 105.9C607.7 106.6 606.7 106.4 606.0 107.4C605.2 108.5 604.7 109.9 604.9 111.6C605.1 113.3 605.8 115.3 607.0 116.8C608.1 118.3 609.2 119.2 611.2 119.9C613.1 120.6 615.1 120.6 617.4 120.4C619.7 120.2 621.5 119.3 623.6 118.9C625.7 118.4 627.2 117.5 628.8 117.8C630.4 118.1 632.7 119.8 632.5 120.4C632.3 121.1 629.8 121.2 627.8 121.5C625.8 121.8 623.8 121.5 621.5 122.0C619.3 122.5 617.0 123.1 615.3 124.1C613.6 125.0 613.0 126.1 612.2 127.2C611.4 128.3 611.3 129.5 611.2 130.0 M625.7 84.6C626.1 85.7 627.2 88.7 627.8 90.8C628.4 92.9 628.2 94.1 628.8 96.0C629.5 97.9 630.7 99.3 631.4 101.2C632.2 103.1 632.1 104.8 633.0 106.4C633.8 108.0 636.1 108.7 636.1 110.0C636.1 111.4 634.3 112.2 633.0 113.7C631.7 115.1 629.6 117.1 628.8 117.8 M617.4 83.5C617.8 83.4 618.3 83.0 619.5 83.0C620.6 83.0 622.5 83.2 623.6 83.5C624.8 83.8 625.3 84.4 625.7 84.6 M617.4 128.2C618.3 128.0 620.9 127.2 622.6 127.2C624.3 127.2 625.8 127.7 626.7 128.2C627.7 128.7 627.6 129.7 627.8 130.0"/>
</g>
<rect id="panel" x="93.3" y="123" width="474.7" height="455" fill="url(#pan)"/>
<g id="grid" stroke="#d3d9dd" stroke-width="1"><line x1="135" y1="276.6" x2="524.5" y2="276.6"/><line x1="135" y1="308.0" x2="524.5" y2="308.0"/><line x1="135" y1="339.4" x2="524.5" y2="339.4"/><line x1="135" y1="370.8" x2="524.5" y2="370.8"/><line x1="135" y1="402.2" x2="524.5" y2="402.2"/><line x1="135" y1="433.6" x2="524.5" y2="433.6"/><line x1="135" y1="465.0" x2="524.5" y2="465.0"/></g>
<rect x="122.7" y="264.6" width="414.6" height="235.4" fill="none" stroke="#3a3d40" stroke-width="1.1"/>
<rect x="184.4" y="391.1" width="96" height="73.6" fill="#32a3a2"/>
<rect x="379.4" y="301.6" width="95.3" height="163.1" fill="#0881b2"/>
<text id="c3" x="212.59" y="385.8" textLength="39.73" lengthAdjust="spacingAndGlyphs" font-size="15" font-weight="700" fill="#3a3a3a">54.39</text>
<text id="c4" x="402.09" y="291.6" textLength="40.53" lengthAdjust="spacingAndGlyphs" font-size="15" font-weight="700" fill="#3a3a3a">80.98</text>
<text id="c5" x="213.12" y="487.6" textLength="35.21" lengthAdjust="spacingAndGlyphs" font-size="15" font-weight="400" fill="#2b2b2b">2024</text>
<text id="c6" x="414.82" y="487.6" textLength="35.47" lengthAdjust="spacingAndGlyphs" font-size="15" font-weight="400" fill="#2b2b2b">2032</text>
<text id="c1" x="198.14" y="169.6" textLength="263.91" lengthAdjust="spacingAndGlyphs" font-size="16" font-weight="400" fill="#3d3d3d">Global Market Size, 2024 and 2032</text>
<text id="c2" x="278.24" y="194.2" textLength="103.52" lengthAdjust="spacingAndGlyphs" font-size="16" font-weight="700" fill="#111111">(USD Billion)</text>
<text font-size="33" font-weight="700" fill="#404040" font-style="italic"><tspan id="t1" x="49.19" y="55.7" textLength="96.43" lengthAdjust="spacingAndGlyphs">Events</tspan> <tspan id="t2" x="155.09" y="55.7" textLength="62.62" lengthAdjust="spacingAndGlyphs">And</tspan> <tspan id="t3" x="230.19" y="55.7" textLength="156.02" lengthAdjust="spacingAndGlyphs">Exhibitions</tspan> <tspan id="t4" x="398.40" y="55.7" textLength="103.90" lengthAdjust="spacingAndGlyphs">Market</tspan> <tspan id="t5" x="514.70" y="55.7" textLength="69.60" lengthAdjust="spacingAndGlyphs">2024</tspan> <tspan id="t6" x="596.64" y="55.7" textLength="27.20" lengthAdjust="spacingAndGlyphs">to</tspan> <tspan id="t7" x="635.50" y="55.7" textLength="67.75" lengthAdjust="spacingAndGlyphs">2032</tspan></text>
<rect x="771.7" y="88" width="324.3" height="480" rx="24" fill="#ddecf5" stroke="url(#cb)" stroke-width="1.4"/>
<text id="m0" x="853.18" y="148.5" textLength="192.83" lengthAdjust="spacingAndGlyphs" font-size="22.7" font-weight="700" fill="#0d0d0d">Market Segments</text>
<text id="m1" x="853.93" y="197.9" textLength="68.08" lengthAdjust="spacingAndGlyphs" font-size="16" font-weight="700" fill="#0d0d0d">By Type</text>
<circle cx="857.3" cy="214.1" r="2.3" fill="#0d0d0d"/><text id="m2" x="898.05" y="220.0" textLength="31.26" lengthAdjust="spacingAndGlyphs" font-size="16" font-weight="400" fill="#222">B2B</text>
<circle cx="857.3" cy="236.1" r="2.3" fill="#0d0d0d"/><text id="m3" x="898.06" y="242.0" textLength="34.74" lengthAdjust="spacingAndGlyphs" font-size="16" font-weight="400" fill="#222">B2C</text>
<circle cx="857.3" cy="257.7" r="2.3" fill="#0d0d0d"/><text id="m4" x="897.86" y="263.6" textLength="117.42" lengthAdjust="spacingAndGlyphs" font-size="16" font-weight="400" fill="#222">Hybrid/Mixed</text>
<text id="m5" x="853.94" y="285.4" textLength="171.03" lengthAdjust="spacingAndGlyphs" font-size="16" font-weight="700" fill="#0d0d0d">By Revenue Stream</text>
<circle cx="857.3" cy="301.3" r="2.3" fill="#0d0d0d"/><text id="m6" x="897.87" y="307.2" textLength="109.90" lengthAdjust="spacingAndGlyphs" font-size="16" font-weight="400" fill="#222">Exhibitor Fee</text>
<circle cx="857.3" cy="323.1" r="2.3" fill="#0d0d0d"/><text id="m7" x="898.39" y="329.0" textLength="139.37" lengthAdjust="spacingAndGlyphs" font-size="16" font-weight="400" fill="#222">Sponsorship Fee</text>
<circle cx="857.3" cy="344.9" r="2.3" fill="#0d0d0d"/><text id="m8" x="897.86" y="350.8" textLength="117.15" lengthAdjust="spacingAndGlyphs" font-size="16" font-weight="400" fill="#222">Entrance Fee</text>
<circle cx="857.3" cy="366.6" r="2.3" fill="#0d0d0d"/><text id="m9" x="898.63" y="372.5" textLength="69.84" lengthAdjust="spacingAndGlyphs" font-size="16" font-weight="400" fill="#222">Services</text>
<text id="m10" x="853.94" y="394.2" textLength="100.81" lengthAdjust="spacingAndGlyphs" font-size="16" font-weight="700" fill="#0d0d0d">By End User</text>
<circle cx="857.3" cy="410.8" r="2.3" fill="#0d0d0d"/><text font-size="16" font-weight="400" fill="#222"><tspan id="m11" x="898.39" y="416.7" textLength="171.86" lengthAdjust="spacingAndGlyphs">Consumer Goods &amp;</tspan> <tspan id="m12" x="878.98" y="438.5" textLength="109.98" lengthAdjust="spacingAndGlyphs">Retail Sector</tspan></text>
<circle cx="857.3" cy="454.4" r="2.3" fill="#0d0d0d"/><text font-size="16" font-weight="400" fill="#222"><tspan id="m13" x="899.40" y="460.3" textLength="119.65" lengthAdjust="spacingAndGlyphs">Automotive &amp;</tspan> <tspan id="m14" x="879.99" y="482.1" textLength="124.67" lengthAdjust="spacingAndGlyphs">Transportation</tspan></text>
<circle cx="857.3" cy="498.0" r="2.3" fill="#0d0d0d"/><text id="m15" x="897.58" y="503.9" textLength="78.12" lengthAdjust="spacingAndGlyphs" font-size="16" font-weight="400" fill="#222">Industrial</text>
<circle cx="857.3" cy="519.6" r="2.3" fill="#0d0d0d"/><text id="m16" x="897.88" y="525.5" textLength="123.58" lengthAdjust="spacingAndGlyphs" font-size="16" font-weight="400" fill="#222">Entertainment</text>
<circle cx="722" cy="352" r="96" fill="url(#cres)"/>
<circle cx="723" cy="353.3" r="73" fill="#ffffff"/>
<circle cx="723" cy="353.3" r="69.5" fill="#183d4e"/>
<text id="g1" x="688.88" y="348.6" textLength="67.33" lengthAdjust="spacingAndGlyphs" font-size="22.7" font-weight="700" fill="#ffffff">CAGR</text>
<text id="g2" x="696.93" y="375.6" textLength="52.19" lengthAdjust="spacingAndGlyphs" font-size="22.7" font-weight="700" fill="#ffffff">5.1%</text>
<g id="logo">
<path d="M923.05 56.9A11.45 11.45 0 1 1 925.9 64.5L923.1 65.7Z" fill="#ffffff"/>
<rect x="927.2" y="56.9" width="3.5" height="9" fill="#1fb0d0"/>
<rect x="932.6" y="53.1" width="3.6" height="14.2" fill="#19a6d8"/>
<rect x="938.4" y="46.5" width="2.9" height="20.5" fill="#4b6071"/>
<path d="M923.05 56.9A11.45 11.45 0 1 1 925.9 64.5L923.1 65.7Z" fill="none" stroke="#4b6071" stroke-width="3" stroke-linejoin="miter" stroke-miterlimit="10"/>
</g>
<text id="l1" class="logo" x="951.03" y="57.9" textLength="72.24" lengthAdjust="spacingAndGlyphs" font-size="14.5" font-weight="400" fill="#35b3c2">Credence</text>
<text id="l2" class="logo" x="1027.64" y="57.9" textLength="69.77" lengthAdjust="spacingAndGlyphs" font-size="14.5" font-weight="400" fill="#5b6f80">Research</text>
<text id="l3" class="logo" x="951.80" y="67.3" textLength="144.70" lengthAdjust="spacing" font-size="4.6" font-weight="700" fill="#4c6072">Actionable Insights Delivered</text>
</svg>
</body></html>
